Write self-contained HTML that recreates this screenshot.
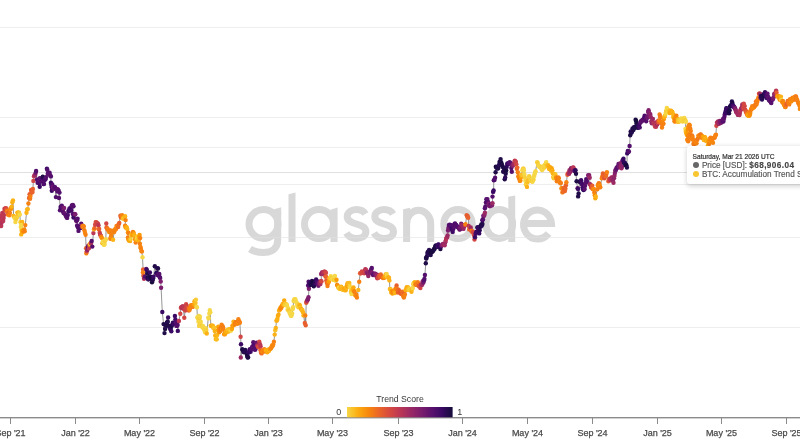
<!DOCTYPE html>
<html><head><meta charset="utf-8"><style>
html,body{margin:0;padding:0;background:#fff;}
body{width:800px;height:445px;overflow:hidden;position:relative;font-family:"Liberation Sans",sans-serif;}
svg{position:absolute;left:0;top:0;will-change:transform;}
.tt{position:absolute;left:687px;top:146px;width:130px;height:38px;background:#fff;border-radius:3px;box-shadow:0 1.5px 5px rgba(0,0,0,0.2);}
.tt div{position:absolute;white-space:nowrap;}
text{opacity:0.999;}
.tt{will-change:transform;}
.d1{left:5.6px;top:6.6px;font-size:6.6px;color:#333;-webkit-text-stroke:0.2px #333;}
.r{left:14.9px;font-size:8.2px;color:#555;-webkit-text-stroke:0.15px #555;}
.r b{color:#444;letter-spacing:0.43px;-webkit-text-stroke:0.15px #444;}
.dot{position:absolute;left:6px;width:6px;height:6px;border-radius:50%;}
</style></head><body>
<svg width="800" height="445" viewBox="0 0 800 445">
<defs><linearGradient id="cb" x1="0" x2="1" y1="0" y2="0"><stop offset="0.00" stop-color="#f6d746"/><stop offset="0.10" stop-color="#fcae12"/><stop offset="0.20" stop-color="#f8890c"/><stop offset="0.30" stop-color="#eb6628"/><stop offset="0.40" stop-color="#d74b3f"/><stop offset="0.50" stop-color="#bc3754"/><stop offset="0.60" stop-color="#9b2964"/><stop offset="0.70" stop-color="#7c1d6d"/><stop offset="0.80" stop-color="#5a116e"/><stop offset="0.90" stop-color="#390963"/><stop offset="1.00" stop-color="#160b39"/></linearGradient></defs>
<g fill="none" stroke="#d8d8d8" stroke-width="7">
<circle cx="263.5" cy="224" r="14.5"/>
<path d="M277.7,212 V240 C277.7,249.5 271,252.5 263.5,252.5 C257.5,252.5 253.5,251.3 250,249"/>
<circle cx="319" cy="224" r="14.5"/>
<path d="M365.4,214 C363.4,210.5 360.4,209.5 356.4,209.5 C351.4,209.5 347.2,212.5 347.2,216.5 C347.2,221 351.4,222.5 356.4,224 C361.4,225.5 365.9,227 365.9,231.5 C365.9,236 361.9,238.5 356.4,238.5 C351.4,238.5 348.4,236.5 346.4,233"/>
<path d="M393.0,214 C391.0,210.5 388.0,209.5 384.0,209.5 C379.0,209.5 374.8,212.5 374.8,216.5 C374.8,221 379.0,222.5 384.0,224 C389.0,225.5 393.5,227 393.5,231.5 C393.5,236 389.5,238.5 384.0,238.5 C379.0,238.5 376.0,236.5 374.0,233"/>
<path d="M406.6,224 A12.05,13.8 0 0 1 430.7,224 V242"/>
<ellipse cx="458" cy="224" rx="14.2" ry="14.4"/>
<ellipse cx="499.2" cy="224" rx="13.4" ry="14.4"/>
<path d="M524.5,223.5 H551.5 A14,14.5 0 1 0 548.5,233.5"/>
</g>
<g fill="#d8d8d8">
<polygon points="288.5,194.3 295.5,192.6 295.5,242 288.5,242"/>
<polygon points="330.5,209.8 337.6,207.6 337.6,242 330.5,242"/>
<polygon points="274,209.3 281.2,207.3 281.2,215 274,215"/>
<polygon points="508.3,196.7 515.2,195.4 515.2,242 508.3,242"/>
<polygon points="403.1,209.3 410.1,207.8 410.1,242 403.1,242"/>
</g>
<rect x="0" y="27" width="800" height="1" fill="#e1e1e1" fill-opacity="0.575"/><rect x="0" y="117" width="800" height="1" fill="#e1e1e1" fill-opacity="0.575"/><rect x="0" y="147" width="800" height="1" fill="#e1e1e1" fill-opacity="0.575"/><rect x="0" y="184" width="800" height="1" fill="#e1e1e1" fill-opacity="0.575"/><rect x="0" y="237" width="800" height="1" fill="#e1e1e1" fill-opacity="0.575"/><rect x="0" y="327" width="800" height="1" fill="#e1e1e1" fill-opacity="0.575"/><rect x="0" y="172" width="800" height="1" fill="#e0e0e0"/>
<polyline points="-4.0,218.0 -3.5,219.5 -3.0,222.5 -2.5,224.0 -1.5,213.0 -0.5,222.0 0.0,218.4 0.5,216.0 1.2,226.0 1.6,222.8 2.0,219.0 2.5,213.0 3.2,221.0 3.6,218.1 4.0,215.0 4.5,208.8 4.9,210.3 5.5,208.5 6.0,208.1 6.5,209.6 6.9,211.3 7.4,210.9 7.9,214.5 8.3,213.0 8.8,214.4 9.3,215.2 9.9,212.9 10.5,208.5 11.1,208.7 11.7,206.6 12.3,202.3 13.0,200.4 13.6,215.9 14.2,216.6 14.8,218.3 15.4,222.0 15.9,218.9 16.4,218.5 16.9,216.9 17.4,212.6 17.9,212.8 18.4,214.1 18.9,212.5 19.3,214.8 19.8,214.6 20.4,222.0 21.0,222.2 21.6,223.6 22.2,222.0 20.8,227.0 21.2,225.0 21.6,229.4 21.2,234.4 21.7,230.7 22.2,231.3 22.7,232.1 23.2,231.0 23.7,230.1 24.2,229.5 24.7,231.3 25.3,225.1 26.5,212.8 27.1,209.5 27.8,209.1 28.4,203.5 29.0,198.0 29.6,194.3 30.1,198.8 30.5,196.1 31.1,189.9 31.6,191.8 32.0,192.6 32.5,192.0 32.9,189.0 33.4,180.9 34.0,176.2 34.6,175.1 35.2,175.0 35.7,172.7 36.1,171.0 37.0,179.5 37.6,182.8 38.3,181.3 38.8,180.9 39.2,183.3 39.7,186.7 39.8,178.2 40.4,179.0 40.9,180.7 41.5,180.9 42.1,178.4 42.8,176.8 43.5,184.0 44.0,184.0 44.6,180.0 45.1,178.7 45.5,179.3 46.0,177.3 46.9,168.7 47.3,169.8 47.8,173.7 48.4,174.1 49.0,174.2 49.6,172.8 50.2,175.3 50.9,176.4 50.9,182.7 51.4,184.9 51.8,187.3 52.3,184.5 51.8,190.8 52.3,188.3 52.7,187.8 53.2,187.2 53.8,189.0 54.4,187.1 55.0,187.2 55.9,197.1 56.8,189.0 57.4,191.4 58.0,189.4 58.6,190.8 59.0,198.0 59.5,192.6 60.0,210.3 60.6,207.0 61.2,206.9 61.8,205.8 62.4,207.4 63.0,211.4 63.6,213.0 64.1,208.0 64.7,213.4 65.3,214.6 65.9,215.7 66.6,217.2 67.2,217.9 67.8,215.1 68.4,211.0 69.0,211.2 69.5,208.4 70.1,209.4 70.6,208.2 71.2,210.4 71.7,205.8 72.3,205.1 72.9,204.9 73.5,206.2 72.8,213.9 73.5,217.5 74.1,214.0 74.7,214.4 75.3,214.3 75.9,220.1 76.4,221.1 77.0,220.2 77.6,218.8 77.1,225.5 77.6,225.9 78.0,227.6 78.5,230.9 79.0,228.0 79.6,227.3 80.1,227.5 80.7,227.9 81.2,223.8 81.7,226.8 82.2,225.6 82.7,226.9 83.3,225.9 83.8,226.5 84.4,230.3 85.0,232.8 85.6,234.8 86.1,248.3 86.3,253.3 86.8,251.3 87.3,249.8 87.8,247.1 88.3,245.7 88.9,248.2 89.5,244.8 90.0,243.8 90.6,243.2 91.1,242.9 91.7,241.0 92.3,246.6 93.4,233.1 94.0,229.2 94.5,228.3 95.1,224.7 95.7,222.1 96.2,222.3 96.8,223.5 97.4,223.3 97.9,223.8 98.5,225.2 98.7,229.2 99.2,228.9 99.7,232.7 100.2,234.8 100.8,235.6 101.3,237.0 101.9,238.1 102.4,243.2 103.0,241.5 103.5,243.3 104.1,244.9 104.7,244.1 105.2,240.8 105.8,239.3 106.3,223.5 106.5,227.5 107.0,228.2 107.5,229.5 108.0,229.2 108.6,230.1 109.1,232.1 109.7,230.3 110.3,238.7 110.9,236.9 111.4,234.8 112.0,230.8 113.1,239.8 114.2,232.0 114.8,229.9 115.3,229.0 115.9,229.2 116.5,225.9 117.0,226.7 117.6,225.8 118.2,226.9 118.7,224.3 119.3,223.0 120.4,215.7 121.0,217.5 121.5,216.1 122.1,215.1 122.8,218.4 123.4,218.4 123.9,218.5 124.5,216.9 125.1,216.2 125.6,220.1 125.1,225.7 125.6,227.4 126.2,227.2 126.8,227.5 127.3,229.1 127.9,232.5 128.6,233.0 127.9,237.5 128.4,239.6 129.0,240.5 129.6,240.1 130.1,241.0 130.6,239.1 131.2,235.3 131.8,234.6 132.3,235.4 132.9,231.9 133.5,232.6 134.0,234.2 134.6,235.8 135.1,239.3 135.7,242.6 136.3,239.7 136.9,238.1 137.4,236.8 138.0,237.8 138.5,240.3 139.1,236.7 139.6,235.0 140.2,238.1 139.9,243.7 140.4,247.0 140.8,248.2 141.4,250.9 141.9,251.6 142.5,257.2 143.1,269.4 142.9,272.5 143.4,275.7 144.0,278.8 144.4,277.9 144.9,276.6 146.3,268.9 146.8,270.0 147.2,273.4 147.6,277.8 148.1,279.3 148.7,279.3 149.3,276.6 149.9,272.5 150.3,276.6 150.9,277.7 151.4,278.7 152.0,282.3 152.6,280.2 153.1,278.2 153.5,276.6 154.8,266.2 156.2,273.4 156.8,272.6 157.4,268.2 158.0,268.5 157.5,274.8 158.1,275.3 158.7,275.0 159.3,273.9 159.8,277.2 160.2,277.9 160.7,281.5 161.1,287.8 162.3,312.0 163.6,324.1 164.5,333.1 165.1,328.9 165.7,327.1 166.3,325.0 166.8,322.7 167.2,322.4 167.7,321.4 168.1,317.4 169.0,325.9 169.6,326.4 170.2,329.0 170.7,328.4 171.3,331.3 171.7,325.9 172.3,324.6 172.9,322.7 173.5,324.1 174.9,316.0 175.4,319.4 175.8,322.3 176.4,325.9 177.0,325.8 177.6,325.0 177.8,330.9 178.9,321.0 180.3,313.8 180.9,307.7 181.6,307.0 182.2,308.1 182.8,306.2 183.4,308.8 184.3,317.8 185.2,310.6 185.6,308.3 186.1,304.3 186.6,305.6 187.0,307.2 187.5,307.9 188.2,307.9 188.8,310.6 189.3,308.2 189.7,309.7 190.2,307.9 190.8,305.4 191.5,305.2 192.0,305.9 192.5,306.9 193.0,304.9 193.5,306.2 194.0,304.4 194.5,301.3 195.0,301.9 195.5,302.9 195.9,299.6 196.4,306.6 196.9,307.4 197.4,317.2 197.9,318.4 198.4,318.8 198.9,315.9 199.4,318.6 199.9,316.8 198.5,321.7 199.1,325.9 199.7,325.0 200.2,323.5 200.8,321.7 201.4,325.6 201.9,326.0 202.4,327.4 202.9,325.9 203.4,327.1 203.9,328.9 204.4,329.1 204.8,331.6 205.3,332.4 205.8,328.1 206.3,330.0 206.8,333.5 208.3,317.7 208.8,318.4 209.3,313.6 209.8,310.2 210.3,312.3 210.8,325.6 211.3,326.0 211.8,325.8 212.3,325.9 212.8,325.6 213.3,327.7 213.8,327.7 214.2,327.7 214.7,331.1 215.2,335.5 215.7,339.1 216.2,339.2 216.7,339.3 217.2,335.1 217.7,330.6 218.2,326.7 218.7,329.2 219.2,332.3 219.7,329.8 220.2,331.1 220.7,328.3 221.1,327.5 221.6,324.7 222.1,329.2 222.6,326.2 223.1,327.4 223.6,329.6 224.1,334.1 224.6,334.4 225.1,333.8 225.6,332.6 226.1,331.6 226.6,332.2 227.1,331.1 227.6,329.6 228.1,330.6 228.6,331.6 229.1,329.5 229.6,329.5 230.0,328.9 230.5,330.4 231.0,330.6 231.5,328.8 232.0,328.8 232.5,325.6 233.0,325.5 233.5,321.7 234.0,324.2 234.5,324.7 235.0,323.9 235.5,322.2 236.0,322.3 236.5,322.9 237.0,321.9 237.5,323.7 237.9,322.6 238.4,319.2 238.9,321.4 239.4,321.6 239.9,322.7 240.6,336.7 241.0,344.2 240.8,357.5 242.3,349.2 242.9,350.3 243.5,351.7 244.1,352.3 244.6,351.8 245.2,350.0 245.8,352.1 246.5,353.0 247.1,355.8 247.7,357.5 248.1,357.3 248.5,352.5 249.0,352.2 249.6,349.5 250.1,349.4 250.6,351.7 251.2,348.9 251.7,348.7 252.3,346.7 252.8,346.5 253.3,342.3 253.8,345.1 254.3,347.5 254.9,349.8 255.4,349.4 256.0,346.2 256.5,342.6 257.1,345.4 257.6,345.7 258.1,347.0 258.7,346.6 259.3,341.7 260.0,344.2 260.6,346.2 260.4,350.0 261.0,352.6 261.6,353.4 262.2,351.7 262.7,351.0 263.2,350.4 263.8,350.5 264.3,349.2 264.8,351.6 265.3,350.1 265.8,350.5 266.3,350.2 266.8,350.4 267.3,352.2 267.8,349.7 268.3,350.3 268.8,351.0 269.3,350.0 269.9,349.1 270.4,348.6 271.0,348.3 271.5,347.2 272.1,345.5 272.6,345.8 273.2,344.7 273.9,341.7 274.7,334.6 275.2,330.2 275.8,327.9 276.5,320.8 276.9,320.2 277.4,319.0 277.9,315.9 278.5,314.6 279.1,310.4 279.6,310.0 280.1,309.0 280.5,307.7 281.0,308.2 281.5,306.4 282.1,305.9 282.6,304.2 283.2,303.9 283.7,305.0 284.2,300.5 284.8,304.7 285.3,303.7 285.9,304.0 286.4,305.5 287.0,305.0 287.6,309.7 288.2,308.2 288.9,310.5 289.5,312.7 290.0,312.8 290.4,314.5 290.9,315.8 291.5,315.7 292.2,313.6 292.6,309.2 293.1,307.3 293.6,301.0 294.2,299.5 294.8,299.5 295.4,299.2 296.0,301.7 296.7,302.8 297.2,304.9 297.6,306.1 298.1,306.8 298.7,307.4 299.3,304.8 299.9,305.5 300.5,307.6 301.1,308.9 301.7,310.0 302.4,310.0 303.0,312.2 303.5,315.4 304.8,323.0 305.3,315.4 305.7,325.3 306.2,302.8 306.6,301.7 307.1,300.5 307.6,299.9 308.0,299.1 308.5,297.2 308.9,288.7 308.1,285.5 308.6,281.7 309.2,283.7 309.7,282.2 310.2,285.0 310.8,284.7 311.3,283.8 312.0,280.9 312.6,281.4 313.2,282.4 313.8,286.3 314.4,284.8 315.0,283.0 315.5,282.0 316.1,279.5 316.6,280.6 317.0,281.8 317.4,283.8 317.9,284.4 318.4,285.8 318.9,283.4 319.4,283.0 319.9,281.9 320.4,284.0 321.0,280.9 321.5,281.4 321.1,274.1 321.7,273.1 322.3,272.1 322.8,273.5 323.3,274.2 323.8,272.0 324.3,271.7 324.8,271.6 325.4,272.1 325.9,272.9 325.5,276.6 325.9,276.6 326.3,280.6 326.9,283.0 327.5,286.0 327.9,283.3 328.3,282.2 328.9,281.5 329.4,278.3 330.0,278.2 330.4,278.6 330.8,276.2 331.3,277.6 331.8,278.0 332.3,278.9 332.8,279.4 333.3,278.2 333.9,279.9 334.4,280.1 334.9,276.0 335.4,280.2 335.8,280.5 336.5,279.8 337.1,285.0 337.7,285.6 338.3,287.5 338.9,287.7 339.5,288.8 340.0,289.0 340.6,288.5 341.2,286.8 341.8,287.8 342.3,289.1 342.8,289.8 343.4,288.6 344.0,289.1 344.6,288.7 345.2,290.4 345.8,289.9 346.4,287.2 346.9,285.8 347.5,283.2 348.1,286.6 348.8,285.9 349.3,283.0 349.7,285.9 350.2,287.7 350.9,291.8 351.5,294.0 352.0,291.6 352.4,290.0 352.9,289.5 353.5,287.4 354.1,291.0 354.7,292.2 355.3,295.2 355.9,295.4 356.5,294.9 356.9,297.6 358.3,289.9 359.2,281.8 360.1,273.3 360.7,273.3 361.3,273.1 361.9,271.5 362.5,272.2 363.1,272.8 363.7,272.8 364.2,273.3 364.8,270.7 365.3,269.2 365.9,269.7 366.5,272.4 367.1,272.5 367.7,273.7 368.3,276.0 368.9,273.3 369.5,271.9 370.1,272.5 370.6,270.5 371.2,269.5 371.8,267.9 371.9,272.4 372.5,274.1 373.0,275.0 373.6,274.2 374.2,273.8 374.7,274.0 375.3,273.7 375.9,274.8 376.5,276.2 377.1,274.6 377.3,278.2 377.8,277.6 378.3,277.8 378.8,276.3 379.3,275.6 379.8,276.9 380.3,276.2 380.8,274.5 381.3,276.8 381.9,277.1 382.5,277.2 383.0,278.1 383.6,277.7 384.2,277.7 384.8,276.6 385.4,275.0 386.0,274.3 386.6,274.0 387.2,276.8 387.8,277.4 388.4,277.5 389.0,277.7 389.4,280.4 389.9,289.0 390.5,289.3 391.2,292.6 391.8,291.3 392.4,293.6 392.9,291.9 393.5,290.8 394.1,291.2 394.8,293.0 395.4,289.0 396.0,288.3 396.6,285.4 397.1,289.0 397.6,290.0 398.0,292.6 398.6,289.7 399.2,291.1 399.8,291.7 400.4,293.0 401.0,293.8 401.6,293.5 402.2,291.6 402.8,294.8 403.4,296.6 403.9,297.6 404.3,293.0 404.9,294.8 405.5,290.2 406.1,289.9 406.7,287.2 407.3,288.7 407.9,287.2 408.5,289.7 409.1,288.4 409.7,289.4 410.3,290.0 410.9,290.3 411.5,291.7 412.1,289.0 412.8,288.0 413.3,284.2 413.7,283.0 414.2,282.7 414.9,282.3 415.5,284.5 416.1,284.8 416.7,285.0 417.3,283.1 417.8,282.2 418.2,284.4 418.7,285.8 419.3,286.5 419.8,286.1 420.4,288.0 420.9,285.0 421.3,284.5 421.8,284.1 422.2,284.8 422.7,281.3 423.4,282.5 424.0,280.4 424.4,278.9 424.9,275.0 425.8,263.3 426.0,258.0 426.4,258.5 426.9,256.2 427.4,252.9 428.0,251.7 428.5,253.3 429.1,250.0 429.6,252.6 430.1,251.5 430.7,255.0 431.2,252.2 431.8,251.4 432.3,251.7 432.9,251.1 433.4,250.3 433.9,249.2 434.5,249.0 435.0,247.5 435.4,246.0 435.9,245.4 436.4,246.0 437.0,246.6 437.5,246.8 438.1,244.8 438.6,244.5 439.2,246.5 439.8,246.9 440.4,249.0 441.0,246.3 441.7,245.4 442.3,245.0 442.9,243.9 443.5,244.5 444.1,244.3 444.7,245.3 445.3,242.2 445.8,240.4 446.2,238.4 446.7,237.7 447.1,237.2 447.6,235.5 448.0,230.5 448.4,227.9 448.9,225.1 449.5,224.8 450.1,224.9 450.7,226.0 451.2,225.1 451.6,228.6 452.1,230.0 452.7,231.9 453.3,228.9 453.9,227.0 454.4,224.2 455.0,223.4 455.6,224.7 456.1,225.0 456.7,226.0 457.2,226.7 457.8,227.3 458.4,227.0 458.9,228.2 459.5,229.6 460.1,229.3 460.6,227.5 461.2,223.8 461.8,225.3 462.3,225.0 462.9,226.0 463.5,228.9 464.1,226.7 464.7,225.5 465.1,225.1 465.6,224.2 466.7,215.3 467.2,216.6 467.7,216.1 468.2,217.8 468.7,225.9 469.2,229.4 469.7,228.4 470.2,228.3 470.7,227.4 471.2,230.7 471.8,231.0 472.4,232.2 473.0,231.7 473.6,232.8 474.1,235.6 474.5,239.5 475.0,237.3 475.6,233.8 476.3,231.9 476.8,231.7 477.3,227.4 478.0,227.1 478.6,229.2 479.2,233.4 479.7,230.2 480.2,226.5 480.8,226.5 481.3,224.5 481.9,225.5 482.4,223.9 482.4,220.3 482.9,219.2 483.4,215.8 483.9,215.8 484.4,215.0 484.9,212.8 484.9,208.2 485.4,206.5 485.9,202.6 486.4,199.3 486.9,201.8 487.4,199.1 487.9,201.6 488.4,203.5 488.9,205.5 489.4,203.7 489.9,206.2 490.5,205.0 491.0,204.7 491.5,205.3 492.0,205.3 492.5,203.2 492.5,196.6 493.1,191.9 493.6,190.5 493.8,180.3 494.5,179.9 495.1,177.8 495.6,172.3 495.8,166.7 496.4,167.6 497.0,167.0 497.5,168.6 498.1,168.2 498.6,166.1 499.0,164.9 499.5,162.0 500.1,161.7 500.6,159.1 501.1,162.1 501.6,163.8 502.2,165.2 502.7,166.9 503.2,171.7 503.7,171.3 504.2,168.2 504.7,179.3 505.2,177.4 505.7,173.8 506.2,170.4 506.7,166.9 507.2,163.8 507.7,164.2 508.2,163.2 508.7,163.4 509.2,162.9 509.7,162.1 510.2,162.9 510.8,164.0 511.3,168.0 511.8,171.7 512.3,165.2 512.8,165.7 513.3,163.9 513.8,164.6 514.3,162.5 514.8,160.6 515.3,161.5 515.8,161.7 516.3,164.2 516.8,168.7 517.3,167.6 517.8,172.3 518.3,176.3 518.8,177.5 519.4,179.1 519.9,180.9 520.4,180.4 520.9,177.4 521.4,174.8 521.9,175.2 522.4,170.2 522.9,168.9 523.4,168.4 523.9,170.2 524.4,174.3 524.9,177.4 525.4,180.8 525.9,184.4 526.4,182.9 527.0,186.9 527.5,182.4 528.0,180.2 528.5,179.9 529.0,176.3 529.5,176.8 530.0,179.0 530.5,179.6 531.0,180.3 531.5,181.0 532.0,181.2 532.5,181.8 533.0,180.3 533.5,179.5 534.0,176.2 534.5,174.4 535.1,172.4 535.6,171.2 537.1,162.1 537.6,162.7 538.1,165.1 538.6,165.4 539.1,166.1 539.6,166.9 540.1,167.1 540.6,166.9 541.1,168.6 541.6,166.8 542.1,170.0 542.6,168.7 543.1,168.4 543.7,166.1 544.2,167.5 544.7,165.1 545.2,165.0 545.7,163.8 546.2,162.1 546.7,165.7 547.2,165.6 547.7,166.3 548.2,165.1 548.7,167.8 549.2,169.1 549.7,168.1 550.2,167.1 550.7,168.9 551.2,170.7 551.7,168.2 552.3,170.3 552.8,173.2 553.3,176.9 553.8,178.2 554.3,176.7 554.8,176.2 555.3,174.2 555.8,177.8 556.3,177.4 556.8,181.3 557.3,180.0 557.8,178.9 558.3,177.5 558.8,178.3 559.3,181.6 559.8,182.2 560.3,183.3 560.8,182.9 561.4,188.4 561.9,188.1 562.4,192.4 562.9,191.8 563.4,188.8 563.9,188.0 564.4,189.4 564.9,191.1 565.4,188.7 565.9,185.3 566.4,182.3 567.4,174.7 567.9,173.4 568.5,173.2 569.0,173.9 569.5,170.2 570.0,172.2 570.5,170.7 571.0,168.2 571.5,168.7 572.0,169.1 572.5,168.3 573.0,167.4 573.5,167.6 574.0,170.3 574.5,171.1 575.0,170.8 575.5,170.2 576.0,173.7 576.6,181.2 577.6,188.3 578.1,188.9 578.6,193.4 578.1,196.4 579.6,181.7 580.1,181.4 580.6,182.0 581.1,180.3 581.6,183.8 582.1,184.3 582.6,187.3 583.1,189.3 583.6,190.1 584.1,189.2 584.6,189.1 585.1,185.8 585.6,182.2 586.2,179.1 586.7,180.8 587.2,182.3 588.2,175.2 588.7,175.6 589.2,175.1 589.7,177.7 589.9,184.3 590.5,184.8 591.0,186.9 591.6,187.8 592.2,185.8 592.7,188.9 593.2,189.3 593.8,189.0 594.3,192.4 594.8,195.2 595.3,198.3 595.8,196.4 597.3,189.3 597.8,185.3 598.3,184.4 598.8,183.3 599.3,183.8 599.8,185.6 600.3,187.3 601.8,178.2 602.3,176.3 602.9,173.4 603.4,176.2 603.9,176.3 604.4,178.2 604.9,174.2 605.4,174.7 605.9,176.0 606.4,174.1 606.9,172.1 608.4,181.2 608.9,180.0 609.4,179.3 609.9,178.8 610.4,180.2 610.9,179.5 611.5,177.5 612.0,177.7 612.5,180.2 613.0,180.1 613.5,182.8 614.0,178.2 614.5,175.8 614.9,172.9 615.4,170.3 615.9,170.1 616.4,168.1 617.0,167.9 617.5,166.8 618.0,167.0 618.5,164.0 619.0,166.2 619.5,167.3 620.0,166.5 620.5,163.1 621.0,166.5 621.5,168.2 622.0,166.6 622.5,160.5 623.0,160.3 623.5,158.8 624.0,162.5 624.5,163.2 625.0,163.0 625.5,164.9 626.0,164.9 626.4,165.3 626.9,167.6 627.2,153.4 627.8,150.9 628.3,152.0 628.9,151.4 629.6,146.0 630.2,135.2 630.7,131.4 631.1,132.8 631.6,132.5 632.1,131.6 632.5,128.4 633.0,129.8 633.5,129.8 634.0,127.1 634.5,127.1 635.0,127.8 635.6,119.7 636.1,121.0 636.5,123.8 637.0,126.5 637.5,125.1 638.0,127.9 638.6,126.8 639.1,125.0 639.7,127.4 640.3,122.8 640.8,121.6 641.4,120.7 641.9,121.2 642.5,120.1 643.0,119.7 643.5,119.5 644.1,118.0 644.6,115.7 645.1,116.6 645.7,118.5 646.2,121.2 646.7,118.5 647.2,117.6 647.6,116.1 648.1,111.9 648.6,110.2 649.0,112.8 649.4,116.5 649.9,114.5 650.3,114.1 650.8,117.0 651.3,121.2 651.8,123.2 652.4,121.9 652.9,118.9 653.5,122.6 654.0,123.6 654.5,124.2 655.0,126.5 655.5,124.8 656.0,126.7 656.6,122.3 657.2,124.4 657.7,123.2 658.2,120.7 658.7,122.0 659.2,120.4 659.6,114.5 660.1,116.5 660.7,117.6 661.2,122.0 661.6,123.7 662.0,127.5 662.5,122.5 663.0,124.1 663.5,123.6 663.9,119.0 664.3,117.3 664.8,115.9 665.4,114.6 665.9,112.2 666.4,110.5 666.8,108.0 667.3,109.3 667.8,109.8 668.3,112.3 668.8,110.5 669.3,111.7 669.8,113.0 670.3,112.5 670.8,110.8 671.2,111.0 671.7,111.8 672.2,111.8 672.7,113.3 673.2,116.9 673.7,115.0 674.1,118.7 674.5,121.2 675.0,121.5 675.5,118.4 675.9,117.2 676.4,115.8 676.9,118.7 677.3,119.5 677.8,121.7 678.3,119.6 678.9,121.7 679.4,121.0 680.0,120.5 680.5,120.8 681.0,118.5 681.6,118.9 682.1,119.0 682.7,121.5 683.2,119.9 683.7,118.7 684.3,117.9 684.8,120.6 685.4,120.2 685.9,121.7 685.4,128.9 685.8,131.8 686.3,133.3 686.8,134.9 687.3,133.2 687.8,129.4 688.3,126.4 688.8,127.2 689.3,124.8 689.8,125.4 690.3,128.7 690.8,131.1 688.1,136.0 687.2,139.6 687.7,140.6 688.2,141.3 688.7,137.3 689.3,134.9 689.8,134.7 690.3,135.1 690.8,136.5 691.4,138.7 692.0,135.5 692.6,136.9 693.0,139.8 693.5,143.7 694.1,144.3 694.7,140.4 695.3,141.0 695.9,143.3 696.5,143.2 697.1,140.1 697.8,138.5 698.4,135.6 699.0,135.7 699.6,135.7 700.2,134.7 700.8,134.5 701.4,137.8 702.0,136.0 702.6,136.7 703.2,136.6 703.8,140.1 704.4,137.2 705.0,137.2 705.6,138.7 706.2,141.0 706.8,140.7 707.4,141.4 708.0,145.2 708.6,140.9 709.2,143.7 709.7,141.7 710.1,138.6 710.6,137.8 711.2,139.1 711.8,140.3 712.4,139.6 713.0,142.8 713.6,137.9 714.2,137.8 714.8,137.4 715.4,135.3 716.0,134.7 716.4,125.8 717.0,122.8 717.5,122.3 718.1,121.5 718.7,123.9 719.2,121.7 719.7,121.0 720.1,121.6 720.6,123.1 721.1,122.5 721.7,121.9 722.2,121.0 722.8,119.2 723.4,121.5 723.9,118.9 724.4,116.8 724.8,114.3 725.3,112.6 725.8,110.7 726.3,108.3 726.7,108.5 727.2,112.0 727.7,113.0 728.2,111.7 728.7,110.9 729.1,113.2 729.6,110.2 730.1,106.4 730.5,106.1 731.0,105.5 731.5,104.5 731.9,101.5 732.4,103.1 732.9,105.9 733.3,105.5 733.8,107.1 734.3,106.9 734.8,108.6 735.2,108.3 735.7,110.4 736.2,112.3 736.7,111.1 737.3,113.2 737.9,114.9 738.4,114.1 739.0,114.9 739.5,115.0 739.9,112.9 740.4,110.2 740.9,109.6 741.3,108.6 741.8,107.3 742.3,104.5 742.8,106.1 743.3,108.3 743.8,103.6 744.2,105.9 744.7,106.1 745.2,109.7 745.7,111.1 746.1,112.6 746.6,111.6 747.1,114.8 747.5,113.8 748.0,115.5 748.5,115.4 749.0,115.9 749.4,112.1 749.9,114.9 750.3,112.9 750.8,110.1 751.3,108.8 751.8,109.1 752.2,106.3 752.7,107.4 753.2,107.8 753.7,107.4 754.1,106.9 754.6,105.5 755.1,105.7 755.5,104.6 756.0,101.5 756.5,104.5 757.0,102.3 757.4,100.1 757.9,99.8 758.4,97.4 759.0,93.6 759.5,93.8 760.0,93.8 760.5,97.7 761.0,96.0 761.5,97.5 762.0,99.6 762.6,97.1 763.1,96.3 763.6,95.0 764.1,94.0 764.6,93.8 765.0,92.2 765.5,94.2 766.0,95.3 766.5,97.9 767.0,96.3 767.5,93.7 768.0,96.6 768.5,97.6 769.0,100.3 769.5,99.1 770.1,100.9 770.8,102.3 771.3,103.0 771.9,99.2 772.4,99.7 773.0,98.9 773.6,97.2 774.2,93.9 774.9,94.1 775.5,92.6 776.1,90.6 776.6,92.7 777.1,96.3 777.7,96.1 778.3,96.9 778.8,96.3 779.4,98.7 779.9,99.7 780.4,99.4 780.9,96.6 781.2,100.0 781.8,101.2 782.4,102.3 782.9,101.0 783.5,103.5 784.0,104.8 784.5,105.2 785.1,107.0 785.6,107.0 786.1,104.9 786.7,103.5 787.2,104.1 787.7,101.0 788.2,103.1 788.7,102.9 789.2,104.4 789.7,100.6 790.1,99.1 790.6,100.0 791.1,101.6 791.5,101.1 792.0,99.2 792.5,97.8 793.0,98.4 793.5,98.1 794.0,99.8 794.5,97.6 795.0,96.6 795.5,96.6 796.0,96.5 796.4,99.5 796.9,99.1 797.5,100.7 798.2,102.9 798.8,103.3 799.4,105.4 799.9,108.9 800.4,108.2 801.0,105.5 801.5,102.3 802.0,104.0" fill="none" stroke="#8a8a8a" stroke-width="0.9"/>
<circle cx="-4.0" cy="218.0" r="2.20" fill="#bc3754"/>
<circle cx="-3.5" cy="219.5" r="2.20" fill="#ba3655"/>
<circle cx="-3.0" cy="222.5" r="2.20" fill="#bf3952"/>
<circle cx="-2.5" cy="224.0" r="2.20" fill="#bc3754"/>
<circle cx="-1.5" cy="213.0" r="2.20" fill="#bc3754"/>
<circle cx="-0.5" cy="222.0" r="2.20" fill="#bc3754"/>
<circle cx="0.0" cy="218.4" r="2.20" fill="#c63d4d"/>
<circle cx="0.5" cy="216.0" r="2.20" fill="#bc3754"/>
<circle cx="1.2" cy="226.0" r="2.20" fill="#bc3754"/>
<circle cx="1.6" cy="222.8" r="2.20" fill="#b3325a"/>
<circle cx="2.0" cy="219.0" r="2.20" fill="#bc3754"/>
<circle cx="2.5" cy="213.0" r="2.20" fill="#bc3754"/>
<circle cx="3.2" cy="221.0" r="2.20" fill="#bc3754"/>
<circle cx="3.6" cy="218.1" r="2.20" fill="#b93556"/>
<circle cx="4.0" cy="215.0" r="2.20" fill="#bc3754"/>
<circle cx="4.5" cy="208.8" r="2.20" fill="#d04545"/>
<circle cx="4.9" cy="210.3" r="2.20" fill="#d24644"/>
<circle cx="5.5" cy="208.5" r="2.20" fill="#bc3754"/>
<circle cx="6.0" cy="208.1" r="2.20" fill="#d54a41"/>
<circle cx="6.5" cy="209.6" r="2.20" fill="#df5337"/>
<circle cx="6.9" cy="211.3" r="2.20" fill="#eb6628"/>
<circle cx="7.4" cy="210.9" r="2.20" fill="#f78212"/>
<circle cx="7.9" cy="214.5" r="2.20" fill="#f57d15"/>
<circle cx="8.3" cy="213.0" r="2.20" fill="#e8602d"/>
<circle cx="8.8" cy="214.4" r="2.20" fill="#ef6c23"/>
<circle cx="9.3" cy="215.2" r="2.20" fill="#f78212"/>
<circle cx="9.9" cy="212.9" r="2.20" fill="#f67e14"/>
<circle cx="10.5" cy="208.5" r="2.20" fill="#f78212"/>
<circle cx="11.1" cy="208.7" r="2.20" fill="#fa9008"/>
<circle cx="11.7" cy="206.6" r="2.20" fill="#fcb216"/>
<circle cx="12.3" cy="202.3" r="2.20" fill="#fcb216"/>
<circle cx="13.0" cy="200.4" r="2.20" fill="#fcb216"/>
<circle cx="13.6" cy="215.9" r="2.20" fill="#fcb216"/>
<circle cx="14.2" cy="216.6" r="2.20" fill="#fbba1f"/>
<circle cx="14.8" cy="218.3" r="2.20" fill="#f6d746"/>
<circle cx="15.4" cy="222.0" r="2.20" fill="#f6d746"/>
<circle cx="15.9" cy="218.9" r="2.20" fill="#f6d746"/>
<circle cx="16.4" cy="218.5" r="2.20" fill="#f9c932"/>
<circle cx="16.9" cy="216.9" r="2.20" fill="#f8cf3a"/>
<circle cx="17.4" cy="212.6" r="2.20" fill="#fcb418"/>
<circle cx="17.9" cy="212.8" r="2.20" fill="#fcb216"/>
<circle cx="18.4" cy="214.1" r="2.20" fill="#fbb61a"/>
<circle cx="18.9" cy="212.5" r="2.20" fill="#fac228"/>
<circle cx="19.3" cy="214.8" r="2.20" fill="#f9cb35"/>
<circle cx="19.8" cy="214.6" r="2.20" fill="#f6d746"/>
<circle cx="20.4" cy="222.0" r="2.20" fill="#f6d746"/>
<circle cx="21.0" cy="222.2" r="2.20" fill="#fac62d"/>
<circle cx="21.6" cy="223.6" r="2.20" fill="#f8cd37"/>
<circle cx="22.2" cy="222.0" r="2.20" fill="#fcb216"/>
<circle cx="20.8" cy="227.0" r="2.20" fill="#f6d746"/>
<circle cx="21.2" cy="225.0" r="2.20" fill="#f6d746"/>
<circle cx="21.6" cy="229.4" r="2.20" fill="#f6d746"/>
<circle cx="21.2" cy="234.4" r="2.20" fill="#fcb216"/>
<circle cx="21.7" cy="230.7" r="2.20" fill="#fbb81d"/>
<circle cx="22.2" cy="231.3" r="2.20" fill="#fcac11"/>
<circle cx="22.7" cy="232.1" r="2.20" fill="#fca108"/>
<circle cx="23.2" cy="231.0" r="2.20" fill="#f98b0b"/>
<circle cx="23.7" cy="230.1" r="2.20" fill="#fb9b06"/>
<circle cx="24.2" cy="229.5" r="2.20" fill="#f8890c"/>
<circle cx="24.7" cy="231.3" r="2.20" fill="#f78212"/>
<circle cx="25.3" cy="225.1" r="2.20" fill="#f78212"/>
<circle cx="26.5" cy="212.8" r="2.20" fill="#fcb216"/>
<circle cx="27.1" cy="209.5" r="2.20" fill="#fbba1f"/>
<circle cx="27.8" cy="209.1" r="2.20" fill="#fcb216"/>
<circle cx="28.4" cy="203.5" r="2.20" fill="#f78212"/>
<circle cx="29.0" cy="198.0" r="2.20" fill="#e8602d"/>
<circle cx="29.6" cy="194.3" r="2.20" fill="#e8602d"/>
<circle cx="30.1" cy="198.8" r="2.20" fill="#f47918"/>
<circle cx="30.5" cy="196.1" r="2.20" fill="#f78212"/>
<circle cx="31.1" cy="189.9" r="2.20" fill="#e8602d"/>
<circle cx="31.6" cy="191.8" r="2.20" fill="#e75e2e"/>
<circle cx="32.0" cy="192.6" r="2.20" fill="#e8602d"/>
<circle cx="32.5" cy="192.0" r="2.20" fill="#ea632a"/>
<circle cx="32.9" cy="189.0" r="2.20" fill="#e8602d"/>
<circle cx="33.4" cy="180.9" r="2.20" fill="#d24644"/>
<circle cx="34.0" cy="176.2" r="2.20" fill="#c03a51"/>
<circle cx="34.6" cy="175.1" r="2.20" fill="#ab2f5e"/>
<circle cx="35.2" cy="175.0" r="2.20" fill="#9b2964"/>
<circle cx="35.7" cy="172.7" r="2.20" fill="#6d186e"/>
<circle cx="36.1" cy="171.0" r="2.20" fill="#540f6d"/>
<circle cx="37.0" cy="179.5" r="2.20" fill="#540f6d"/>
<circle cx="37.6" cy="182.8" r="2.20" fill="#4c0c6b"/>
<circle cx="38.3" cy="181.3" r="2.20" fill="#540f6d"/>
<circle cx="38.8" cy="180.9" r="2.20" fill="#57106e"/>
<circle cx="39.2" cy="183.3" r="2.20" fill="#4d0d6c"/>
<circle cx="39.7" cy="186.7" r="2.20" fill="#390963"/>
<circle cx="39.8" cy="178.2" r="2.20" fill="#540f6d"/>
<circle cx="40.4" cy="179.0" r="2.20" fill="#61136e"/>
<circle cx="40.9" cy="180.7" r="2.20" fill="#5d126e"/>
<circle cx="41.5" cy="180.9" r="2.20" fill="#540f6d"/>
<circle cx="42.1" cy="178.4" r="2.20" fill="#470b6a"/>
<circle cx="42.8" cy="176.8" r="2.20" fill="#1f0c48"/>
<circle cx="43.5" cy="184.0" r="2.20" fill="#390963"/>
<circle cx="44.0" cy="184.0" r="2.20" fill="#510e6c"/>
<circle cx="44.6" cy="180.0" r="2.20" fill="#540f6d"/>
<circle cx="45.1" cy="178.7" r="2.20" fill="#4a0c6b"/>
<circle cx="45.5" cy="179.3" r="2.20" fill="#470b6a"/>
<circle cx="46.0" cy="177.3" r="2.20" fill="#540f6d"/>
<circle cx="46.9" cy="168.7" r="2.20" fill="#390963"/>
<circle cx="47.3" cy="169.8" r="2.20" fill="#520e6d"/>
<circle cx="47.8" cy="173.7" r="2.20" fill="#540f6d"/>
<circle cx="48.4" cy="174.1" r="2.20" fill="#5d126e"/>
<circle cx="49.0" cy="174.2" r="2.20" fill="#61136e"/>
<circle cx="49.6" cy="172.8" r="2.20" fill="#540f6d"/>
<circle cx="50.2" cy="175.3" r="2.20" fill="#5d126e"/>
<circle cx="50.9" cy="176.4" r="2.20" fill="#540f6d"/>
<circle cx="50.9" cy="182.7" r="2.20" fill="#390963"/>
<circle cx="51.4" cy="184.9" r="2.20" fill="#380962"/>
<circle cx="51.8" cy="187.3" r="2.20" fill="#450a69"/>
<circle cx="52.3" cy="184.5" r="2.20" fill="#540f6d"/>
<circle cx="51.8" cy="190.8" r="2.20" fill="#390963"/>
<circle cx="52.3" cy="188.3" r="2.20" fill="#4f0d6c"/>
<circle cx="52.7" cy="187.8" r="2.20" fill="#5d126e"/>
<circle cx="53.2" cy="187.2" r="2.20" fill="#7c1d6d"/>
<circle cx="53.8" cy="189.0" r="2.20" fill="#65156e"/>
<circle cx="54.4" cy="187.1" r="2.20" fill="#540f6d"/>
<circle cx="55.0" cy="187.2" r="2.20" fill="#540f6d"/>
<circle cx="55.9" cy="197.1" r="2.20" fill="#540f6d"/>
<circle cx="56.8" cy="189.0" r="2.20" fill="#540f6d"/>
<circle cx="57.4" cy="191.4" r="2.20" fill="#57106e"/>
<circle cx="58.0" cy="189.4" r="2.20" fill="#61136e"/>
<circle cx="58.6" cy="190.8" r="2.20" fill="#540f6d"/>
<circle cx="59.0" cy="198.0" r="2.20" fill="#540f6d"/>
<circle cx="59.5" cy="192.6" r="2.20" fill="#540f6d"/>
<circle cx="60.0" cy="210.3" r="2.20" fill="#540f6d"/>
<circle cx="60.6" cy="207.0" r="2.20" fill="#490b6a"/>
<circle cx="61.2" cy="206.9" r="2.20" fill="#470b6a"/>
<circle cx="61.8" cy="205.8" r="2.20" fill="#540f6d"/>
<circle cx="62.4" cy="207.4" r="2.20" fill="#5c126e"/>
<circle cx="63.0" cy="211.4" r="2.20" fill="#5a116e"/>
<circle cx="63.6" cy="213.0" r="2.20" fill="#540f6d"/>
<circle cx="64.1" cy="208.0" r="2.20" fill="#7c1d6d"/>
<circle cx="64.7" cy="213.4" r="2.20" fill="#65156e"/>
<circle cx="65.3" cy="214.6" r="2.20" fill="#61136e"/>
<circle cx="65.9" cy="215.7" r="2.20" fill="#540f6d"/>
<circle cx="66.6" cy="217.2" r="2.20" fill="#5f136e"/>
<circle cx="67.2" cy="217.9" r="2.20" fill="#540f6d"/>
<circle cx="67.8" cy="215.1" r="2.20" fill="#4c0c6b"/>
<circle cx="68.4" cy="211.0" r="2.20" fill="#4a0c6b"/>
<circle cx="69.0" cy="211.2" r="2.20" fill="#390963"/>
<circle cx="69.5" cy="208.4" r="2.20" fill="#420a68"/>
<circle cx="70.1" cy="209.4" r="2.20" fill="#470b6a"/>
<circle cx="70.6" cy="208.2" r="2.20" fill="#3d0965"/>
<circle cx="71.2" cy="210.4" r="2.20" fill="#490b6a"/>
<circle cx="71.7" cy="205.8" r="2.20" fill="#540f6d"/>
<circle cx="72.3" cy="205.1" r="2.20" fill="#4c0c6b"/>
<circle cx="72.9" cy="204.9" r="2.20" fill="#5d126e"/>
<circle cx="73.5" cy="206.2" r="2.20" fill="#540f6d"/>
<circle cx="72.8" cy="213.9" r="2.20" fill="#540f6d"/>
<circle cx="73.5" cy="217.5" r="2.20" fill="#390963"/>
<circle cx="74.1" cy="214.0" r="2.20" fill="#4d0d6c"/>
<circle cx="74.7" cy="214.4" r="2.20" fill="#6f196e"/>
<circle cx="75.3" cy="214.3" r="2.20" fill="#7c1d6d"/>
<circle cx="75.9" cy="220.1" r="2.20" fill="#65156e"/>
<circle cx="76.4" cy="221.1" r="2.20" fill="#69166e"/>
<circle cx="77.0" cy="220.2" r="2.20" fill="#540f6d"/>
<circle cx="77.6" cy="218.8" r="2.20" fill="#540f6d"/>
<circle cx="77.1" cy="225.5" r="2.20" fill="#540f6d"/>
<circle cx="77.6" cy="225.9" r="2.20" fill="#5a116e"/>
<circle cx="78.0" cy="227.6" r="2.20" fill="#520e6d"/>
<circle cx="78.5" cy="230.9" r="2.20" fill="#540f6d"/>
<circle cx="79.0" cy="228.0" r="2.20" fill="#520e6d"/>
<circle cx="79.6" cy="227.3" r="2.20" fill="#490b6a"/>
<circle cx="80.1" cy="227.5" r="2.20" fill="#550f6d"/>
<circle cx="80.7" cy="227.9" r="2.20" fill="#490b6a"/>
<circle cx="81.2" cy="223.8" r="2.20" fill="#540f6d"/>
<circle cx="81.7" cy="226.8" r="2.20" fill="#952667"/>
<circle cx="82.2" cy="225.6" r="2.20" fill="#db503b"/>
<circle cx="82.7" cy="226.9" r="2.20" fill="#f78212"/>
<circle cx="83.3" cy="225.9" r="2.20" fill="#f98b0b"/>
<circle cx="83.8" cy="226.5" r="2.20" fill="#f78212"/>
<circle cx="84.4" cy="230.3" r="2.20" fill="#f78212"/>
<circle cx="85.0" cy="232.8" r="2.20" fill="#f8870e"/>
<circle cx="85.6" cy="234.8" r="2.20" fill="#f78212"/>
<circle cx="86.1" cy="248.3" r="2.20" fill="#e8602d"/>
<circle cx="86.3" cy="253.3" r="2.20" fill="#f78212"/>
<circle cx="86.8" cy="251.3" r="2.20" fill="#c83f4b"/>
<circle cx="87.3" cy="249.8" r="2.20" fill="#8a226a"/>
<circle cx="87.8" cy="247.1" r="2.20" fill="#390963"/>
<circle cx="88.3" cy="245.7" r="2.20" fill="#7c1d6d"/>
<circle cx="88.9" cy="248.2" r="2.20" fill="#c03a51"/>
<circle cx="89.5" cy="244.8" r="2.20" fill="#f78212"/>
<circle cx="90.0" cy="243.8" r="2.20" fill="#f6d746"/>
<circle cx="90.6" cy="243.2" r="2.20" fill="#f1711f"/>
<circle cx="91.1" cy="242.9" r="2.20" fill="#ab2f5e"/>
<circle cx="91.7" cy="241.0" r="2.20" fill="#540f6d"/>
<circle cx="92.3" cy="246.6" r="2.20" fill="#540f6d"/>
<circle cx="93.4" cy="233.1" r="2.20" fill="#bc3754"/>
<circle cx="94.0" cy="229.2" r="2.20" fill="#fcb216"/>
<circle cx="94.5" cy="228.3" r="2.20" fill="#ed6925"/>
<circle cx="95.1" cy="224.7" r="2.20" fill="#d24644"/>
<circle cx="95.7" cy="222.1" r="2.20" fill="#d94d3d"/>
<circle cx="96.2" cy="222.3" r="2.20" fill="#d94d3d"/>
<circle cx="96.8" cy="223.5" r="2.20" fill="#d24644"/>
<circle cx="97.4" cy="223.3" r="2.20" fill="#d04545"/>
<circle cx="97.9" cy="223.8" r="2.20" fill="#cc4248"/>
<circle cx="98.5" cy="225.2" r="2.20" fill="#bc3754"/>
<circle cx="98.7" cy="229.2" r="2.20" fill="#f78212"/>
<circle cx="99.2" cy="228.9" r="2.20" fill="#e65d2f"/>
<circle cx="99.7" cy="232.7" r="2.20" fill="#d24644"/>
<circle cx="100.2" cy="234.8" r="2.20" fill="#bc3754"/>
<circle cx="100.8" cy="235.6" r="2.20" fill="#d84c3e"/>
<circle cx="101.3" cy="237.0" r="2.20" fill="#f78212"/>
<circle cx="101.9" cy="238.1" r="2.20" fill="#f98e09"/>
<circle cx="102.4" cy="243.2" r="2.20" fill="#fcae12"/>
<circle cx="103.0" cy="241.5" r="2.20" fill="#f6d746"/>
<circle cx="103.5" cy="243.3" r="2.20" fill="#f6d746"/>
<circle cx="104.1" cy="244.9" r="2.20" fill="#f6d746"/>
<circle cx="104.7" cy="244.1" r="2.20" fill="#f6d746"/>
<circle cx="105.2" cy="240.8" r="2.20" fill="#f8cf3a"/>
<circle cx="105.8" cy="239.3" r="2.20" fill="#f6d746"/>
<circle cx="106.3" cy="223.5" r="2.20" fill="#d24644"/>
<circle cx="106.5" cy="227.5" r="2.20" fill="#e8602d"/>
<circle cx="107.0" cy="228.2" r="2.20" fill="#ee6a24"/>
<circle cx="107.5" cy="229.5" r="2.20" fill="#f78212"/>
<circle cx="108.0" cy="229.2" r="2.20" fill="#f78212"/>
<circle cx="108.6" cy="230.1" r="2.20" fill="#f2741c"/>
<circle cx="109.1" cy="232.1" r="2.20" fill="#f98c0a"/>
<circle cx="109.7" cy="230.3" r="2.20" fill="#f78212"/>
<circle cx="110.3" cy="238.7" r="2.20" fill="#f78212"/>
<circle cx="110.9" cy="236.9" r="2.20" fill="#f98c0a"/>
<circle cx="111.4" cy="234.8" r="2.20" fill="#f78410"/>
<circle cx="112.0" cy="230.8" r="2.20" fill="#f78212"/>
<circle cx="113.1" cy="239.8" r="2.20" fill="#fcb216"/>
<circle cx="114.2" cy="232.0" r="2.20" fill="#f78212"/>
<circle cx="114.8" cy="229.9" r="2.20" fill="#f57d15"/>
<circle cx="115.3" cy="229.0" r="2.20" fill="#f98e09"/>
<circle cx="115.9" cy="229.2" r="2.20" fill="#f78212"/>
<circle cx="116.5" cy="225.9" r="2.20" fill="#f78410"/>
<circle cx="117.0" cy="226.7" r="2.20" fill="#f98e09"/>
<circle cx="117.6" cy="225.8" r="2.20" fill="#f78212"/>
<circle cx="118.2" cy="226.9" r="2.20" fill="#ef6c23"/>
<circle cx="118.7" cy="224.3" r="2.20" fill="#f3761b"/>
<circle cx="119.3" cy="223.0" r="2.20" fill="#e8602d"/>
<circle cx="120.4" cy="215.7" r="2.20" fill="#e8602d"/>
<circle cx="121.0" cy="217.5" r="2.20" fill="#e8602d"/>
<circle cx="121.5" cy="216.1" r="2.20" fill="#f57d15"/>
<circle cx="122.1" cy="215.1" r="2.20" fill="#f78212"/>
<circle cx="122.8" cy="218.4" r="2.20" fill="#fcb216"/>
<circle cx="123.4" cy="218.4" r="2.20" fill="#fbbe23"/>
<circle cx="123.9" cy="218.5" r="2.20" fill="#fac228"/>
<circle cx="124.5" cy="216.9" r="2.20" fill="#fbbc21"/>
<circle cx="125.1" cy="216.2" r="2.20" fill="#fcb216"/>
<circle cx="125.6" cy="220.1" r="2.20" fill="#f78212"/>
<circle cx="125.1" cy="225.7" r="2.20" fill="#f78212"/>
<circle cx="125.6" cy="227.4" r="2.20" fill="#fa9207"/>
<circle cx="126.2" cy="227.2" r="2.20" fill="#fca80d"/>
<circle cx="126.8" cy="227.5" r="2.20" fill="#fcae12"/>
<circle cx="127.3" cy="229.1" r="2.20" fill="#fcb216"/>
<circle cx="127.9" cy="232.5" r="2.20" fill="#fb9706"/>
<circle cx="128.6" cy="233.0" r="2.20" fill="#f78212"/>
<circle cx="127.9" cy="237.5" r="2.20" fill="#f78212"/>
<circle cx="128.4" cy="239.6" r="2.20" fill="#fa9207"/>
<circle cx="129.0" cy="240.5" r="2.20" fill="#fb9d07"/>
<circle cx="129.6" cy="240.1" r="2.20" fill="#fca50a"/>
<circle cx="130.1" cy="241.0" r="2.20" fill="#fcaa0f"/>
<circle cx="130.6" cy="239.1" r="2.20" fill="#f8cd37"/>
<circle cx="131.2" cy="235.3" r="2.20" fill="#f6d746"/>
<circle cx="131.8" cy="234.6" r="2.20" fill="#fbb61a"/>
<circle cx="132.3" cy="235.4" r="2.20" fill="#fc9f07"/>
<circle cx="132.9" cy="231.9" r="2.20" fill="#f78212"/>
<circle cx="133.5" cy="232.6" r="2.20" fill="#f98b0b"/>
<circle cx="134.0" cy="234.2" r="2.20" fill="#fcaa0f"/>
<circle cx="134.6" cy="235.8" r="2.20" fill="#fcb216"/>
<circle cx="135.1" cy="239.3" r="2.20" fill="#fa9008"/>
<circle cx="135.7" cy="242.6" r="2.20" fill="#f78212"/>
<circle cx="136.3" cy="239.7" r="2.20" fill="#fcb216"/>
<circle cx="136.9" cy="238.1" r="2.20" fill="#f6d746"/>
<circle cx="137.4" cy="236.8" r="2.20" fill="#f9cb35"/>
<circle cx="138.0" cy="237.8" r="2.20" fill="#f9c932"/>
<circle cx="138.5" cy="240.3" r="2.20" fill="#fcb216"/>
<circle cx="139.1" cy="236.7" r="2.20" fill="#fca108"/>
<circle cx="139.6" cy="235.0" r="2.20" fill="#fb9906"/>
<circle cx="140.2" cy="238.1" r="2.20" fill="#f78212"/>
<circle cx="139.9" cy="243.7" r="2.20" fill="#f78212"/>
<circle cx="140.4" cy="247.0" r="2.20" fill="#f8850f"/>
<circle cx="140.8" cy="248.2" r="2.20" fill="#f78212"/>
<circle cx="141.4" cy="250.9" r="2.20" fill="#f78212"/>
<circle cx="141.9" cy="251.6" r="2.20" fill="#f78212"/>
<circle cx="142.5" cy="257.2" r="2.20" fill="#f6d746"/>
<circle cx="143.1" cy="269.4" r="2.20" fill="#e8602d"/>
<circle cx="142.9" cy="272.5" r="2.20" fill="#f78212"/>
<circle cx="143.4" cy="275.7" r="2.20" fill="#e25734"/>
<circle cx="144.0" cy="278.8" r="2.20" fill="#bc3754"/>
<circle cx="144.4" cy="277.9" r="2.20" fill="#8d2369"/>
<circle cx="144.9" cy="276.6" r="2.20" fill="#540f6d"/>
<circle cx="146.3" cy="268.9" r="2.20" fill="#540f6d"/>
<circle cx="146.8" cy="270.0" r="2.20" fill="#390963"/>
<circle cx="147.2" cy="273.4" r="2.20" fill="#1f0c48"/>
<circle cx="147.6" cy="277.8" r="2.20" fill="#1b0c41"/>
<circle cx="148.1" cy="279.3" r="2.20" fill="#1f0c48"/>
<circle cx="148.7" cy="279.3" r="2.20" fill="#320a5e"/>
<circle cx="149.3" cy="276.6" r="2.20" fill="#290b55"/>
<circle cx="149.9" cy="272.5" r="2.20" fill="#390963"/>
<circle cx="150.3" cy="276.6" r="2.20" fill="#1f0c48"/>
<circle cx="150.9" cy="277.7" r="2.20" fill="#1c0c43"/>
<circle cx="151.4" cy="278.7" r="2.20" fill="#190c3e"/>
<circle cx="152.0" cy="282.3" r="2.20" fill="#180c3c"/>
<circle cx="152.6" cy="280.2" r="2.20" fill="#1f0c48"/>
<circle cx="153.1" cy="278.2" r="2.20" fill="#2b0b57"/>
<circle cx="153.5" cy="276.6" r="2.20" fill="#390963"/>
<circle cx="154.8" cy="266.2" r="2.20" fill="#1f0c48"/>
<circle cx="156.2" cy="273.4" r="2.20" fill="#390963"/>
<circle cx="156.8" cy="272.6" r="2.20" fill="#2b0b57"/>
<circle cx="157.4" cy="268.2" r="2.20" fill="#2f0a5b"/>
<circle cx="158.0" cy="268.5" r="2.20" fill="#1f0c48"/>
<circle cx="157.5" cy="274.8" r="2.20" fill="#540f6d"/>
<circle cx="158.1" cy="275.3" r="2.20" fill="#4a0c6b"/>
<circle cx="158.7" cy="275.0" r="2.20" fill="#520e6d"/>
<circle cx="159.3" cy="273.9" r="2.20" fill="#540f6d"/>
<circle cx="159.8" cy="277.2" r="2.20" fill="#4f0d6c"/>
<circle cx="160.2" cy="277.9" r="2.20" fill="#540f6d"/>
<circle cx="160.7" cy="281.5" r="2.20" fill="#7c1d6d"/>
<circle cx="161.1" cy="287.8" r="2.20" fill="#7c1d6d"/>
<circle cx="162.3" cy="312.0" r="2.20" fill="#390963"/>
<circle cx="163.6" cy="324.1" r="2.20" fill="#1f0c48"/>
<circle cx="164.5" cy="333.1" r="2.20" fill="#1f0c48"/>
<circle cx="165.1" cy="328.9" r="2.20" fill="#190c3e"/>
<circle cx="165.7" cy="327.1" r="2.20" fill="#260c51"/>
<circle cx="166.3" cy="325.0" r="2.20" fill="#1f0c48"/>
<circle cx="166.8" cy="322.7" r="2.20" fill="#190c3e"/>
<circle cx="167.2" cy="322.4" r="2.20" fill="#280b53"/>
<circle cx="167.7" cy="321.4" r="2.20" fill="#1f0c48"/>
<circle cx="168.1" cy="317.4" r="2.20" fill="#390963"/>
<circle cx="169.0" cy="325.9" r="2.20" fill="#1f0c48"/>
<circle cx="169.6" cy="326.4" r="2.20" fill="#1e0c45"/>
<circle cx="170.2" cy="329.0" r="2.20" fill="#280b53"/>
<circle cx="170.7" cy="328.4" r="2.20" fill="#2f0a5b"/>
<circle cx="171.3" cy="331.3" r="2.20" fill="#390963"/>
<circle cx="171.7" cy="325.9" r="2.20" fill="#1f0c48"/>
<circle cx="172.3" cy="324.6" r="2.20" fill="#2d0b59"/>
<circle cx="172.9" cy="322.7" r="2.20" fill="#2f0a5b"/>
<circle cx="173.5" cy="324.1" r="2.20" fill="#390963"/>
<circle cx="174.9" cy="316.0" r="2.20" fill="#390963"/>
<circle cx="175.4" cy="319.4" r="2.20" fill="#420a68"/>
<circle cx="175.8" cy="322.3" r="2.20" fill="#540f6d"/>
<circle cx="176.4" cy="325.9" r="2.20" fill="#540f6d"/>
<circle cx="177.0" cy="325.8" r="2.20" fill="#550f6d"/>
<circle cx="177.6" cy="325.0" r="2.20" fill="#540f6d"/>
<circle cx="177.8" cy="330.9" r="2.20" fill="#390963"/>
<circle cx="178.9" cy="321.0" r="2.20" fill="#bc3754"/>
<circle cx="180.3" cy="313.8" r="2.20" fill="#d24644"/>
<circle cx="180.9" cy="307.7" r="2.20" fill="#d24644"/>
<circle cx="181.6" cy="307.0" r="2.20" fill="#bc3754"/>
<circle cx="182.2" cy="308.1" r="2.20" fill="#b0315b"/>
<circle cx="182.8" cy="306.2" r="2.20" fill="#bc3754"/>
<circle cx="183.4" cy="308.8" r="2.20" fill="#bc3754"/>
<circle cx="184.3" cy="317.8" r="2.20" fill="#d24644"/>
<circle cx="185.2" cy="310.6" r="2.20" fill="#d24644"/>
<circle cx="185.6" cy="308.3" r="2.20" fill="#d04545"/>
<circle cx="186.1" cy="304.3" r="2.20" fill="#d24644"/>
<circle cx="186.6" cy="305.6" r="2.20" fill="#cb4149"/>
<circle cx="187.0" cy="307.2" r="2.20" fill="#d24644"/>
<circle cx="187.5" cy="307.9" r="2.20" fill="#d24644"/>
<circle cx="188.2" cy="307.9" r="2.20" fill="#e35933"/>
<circle cx="188.8" cy="310.6" r="2.20" fill="#e8602d"/>
<circle cx="189.3" cy="308.2" r="2.20" fill="#f37819"/>
<circle cx="189.7" cy="309.7" r="2.20" fill="#f78410"/>
<circle cx="190.2" cy="307.9" r="2.20" fill="#f78212"/>
<circle cx="190.8" cy="305.4" r="2.20" fill="#f8870e"/>
<circle cx="191.5" cy="305.2" r="2.20" fill="#f78212"/>
<circle cx="192.0" cy="305.9" r="2.20" fill="#fa9008"/>
<circle cx="192.5" cy="306.9" r="2.20" fill="#f57b17"/>
<circle cx="193.0" cy="304.9" r="2.20" fill="#f78212"/>
<circle cx="193.5" cy="306.2" r="2.20" fill="#f78212"/>
<circle cx="194.0" cy="304.4" r="2.20" fill="#fca108"/>
<circle cx="194.5" cy="301.3" r="2.20" fill="#fcaa0f"/>
<circle cx="195.0" cy="301.9" r="2.20" fill="#fcb216"/>
<circle cx="195.5" cy="302.9" r="2.20" fill="#fbbe23"/>
<circle cx="195.9" cy="299.6" r="2.20" fill="#f9cb35"/>
<circle cx="196.4" cy="306.6" r="2.20" fill="#f6d746"/>
<circle cx="196.9" cy="307.4" r="2.20" fill="#f6d746"/>
<circle cx="197.4" cy="317.2" r="2.20" fill="#f6d746"/>
<circle cx="197.9" cy="318.4" r="2.20" fill="#f6d746"/>
<circle cx="198.4" cy="318.8" r="2.20" fill="#f6d746"/>
<circle cx="198.9" cy="315.9" r="2.20" fill="#f6d746"/>
<circle cx="199.4" cy="318.6" r="2.20" fill="#f9c72f"/>
<circle cx="199.9" cy="316.8" r="2.20" fill="#f6d746"/>
<circle cx="198.5" cy="321.7" r="2.20" fill="#f6d746"/>
<circle cx="199.1" cy="325.9" r="2.20" fill="#f8cf3a"/>
<circle cx="199.7" cy="325.0" r="2.20" fill="#f6d746"/>
<circle cx="200.2" cy="323.5" r="2.20" fill="#f8cf3a"/>
<circle cx="200.8" cy="321.7" r="2.20" fill="#f6d746"/>
<circle cx="201.4" cy="325.6" r="2.20" fill="#f6d746"/>
<circle cx="201.9" cy="326.0" r="2.20" fill="#f9c932"/>
<circle cx="202.4" cy="327.4" r="2.20" fill="#f6d746"/>
<circle cx="202.9" cy="325.9" r="2.20" fill="#f6d746"/>
<circle cx="203.4" cy="327.1" r="2.20" fill="#f6d746"/>
<circle cx="203.9" cy="328.9" r="2.20" fill="#f6d746"/>
<circle cx="204.4" cy="329.1" r="2.20" fill="#f7d13d"/>
<circle cx="204.8" cy="331.6" r="2.20" fill="#f6d746"/>
<circle cx="205.3" cy="332.4" r="2.20" fill="#f6d543"/>
<circle cx="205.8" cy="328.1" r="2.20" fill="#f6d746"/>
<circle cx="206.3" cy="330.0" r="2.20" fill="#f8cf3a"/>
<circle cx="206.8" cy="333.5" r="2.20" fill="#fcb216"/>
<circle cx="208.3" cy="317.7" r="2.20" fill="#f6d746"/>
<circle cx="208.8" cy="318.4" r="2.20" fill="#f6d746"/>
<circle cx="209.3" cy="313.6" r="2.20" fill="#f6d746"/>
<circle cx="209.8" cy="310.2" r="2.20" fill="#f6d746"/>
<circle cx="210.3" cy="312.3" r="2.20" fill="#f6d746"/>
<circle cx="210.8" cy="325.6" r="2.20" fill="#fcb216"/>
<circle cx="211.3" cy="326.0" r="2.20" fill="#fbba1f"/>
<circle cx="211.8" cy="325.8" r="2.20" fill="#fcb014"/>
<circle cx="212.3" cy="325.9" r="2.20" fill="#fca60c"/>
<circle cx="212.8" cy="325.6" r="2.20" fill="#fcb216"/>
<circle cx="213.3" cy="327.7" r="2.20" fill="#fbb61a"/>
<circle cx="213.8" cy="327.7" r="2.20" fill="#fbb81d"/>
<circle cx="214.2" cy="327.7" r="2.20" fill="#fac228"/>
<circle cx="214.7" cy="331.1" r="2.20" fill="#fcb216"/>
<circle cx="215.2" cy="335.5" r="2.20" fill="#fcb216"/>
<circle cx="215.7" cy="339.1" r="2.20" fill="#fbbc21"/>
<circle cx="216.2" cy="339.2" r="2.20" fill="#fbba1f"/>
<circle cx="216.7" cy="339.3" r="2.20" fill="#fbbc21"/>
<circle cx="217.2" cy="335.1" r="2.20" fill="#fbb61a"/>
<circle cx="217.7" cy="330.6" r="2.20" fill="#fcb216"/>
<circle cx="218.2" cy="326.7" r="2.20" fill="#fca309"/>
<circle cx="218.7" cy="329.2" r="2.20" fill="#fa9207"/>
<circle cx="219.2" cy="332.3" r="2.20" fill="#fb9606"/>
<circle cx="219.7" cy="329.8" r="2.20" fill="#f8890c"/>
<circle cx="220.2" cy="331.1" r="2.20" fill="#f78212"/>
<circle cx="220.7" cy="328.3" r="2.20" fill="#f3761b"/>
<circle cx="221.1" cy="327.5" r="2.20" fill="#f47918"/>
<circle cx="221.6" cy="324.7" r="2.20" fill="#f78212"/>
<circle cx="222.1" cy="329.2" r="2.20" fill="#f98c0a"/>
<circle cx="222.6" cy="326.2" r="2.20" fill="#f68013"/>
<circle cx="223.1" cy="327.4" r="2.20" fill="#f57d15"/>
<circle cx="223.6" cy="329.6" r="2.20" fill="#f78212"/>
<circle cx="224.1" cy="334.1" r="2.20" fill="#fb9906"/>
<circle cx="224.6" cy="334.4" r="2.20" fill="#f98c0a"/>
<circle cx="225.1" cy="333.8" r="2.20" fill="#fca60c"/>
<circle cx="225.6" cy="332.6" r="2.20" fill="#fb9b06"/>
<circle cx="226.1" cy="331.6" r="2.20" fill="#fcb216"/>
<circle cx="226.6" cy="332.2" r="2.20" fill="#fcae12"/>
<circle cx="227.1" cy="331.1" r="2.20" fill="#fcac11"/>
<circle cx="227.6" cy="329.6" r="2.20" fill="#fac026"/>
<circle cx="228.1" cy="330.6" r="2.20" fill="#fac228"/>
<circle cx="228.6" cy="331.6" r="2.20" fill="#fcb216"/>
<circle cx="229.1" cy="329.5" r="2.20" fill="#fac026"/>
<circle cx="229.6" cy="329.5" r="2.20" fill="#fac228"/>
<circle cx="230.0" cy="328.9" r="2.20" fill="#fbba1f"/>
<circle cx="230.5" cy="330.4" r="2.20" fill="#f9cb35"/>
<circle cx="231.0" cy="330.6" r="2.20" fill="#f6d746"/>
<circle cx="231.5" cy="328.8" r="2.20" fill="#fac228"/>
<circle cx="232.0" cy="328.8" r="2.20" fill="#fca50a"/>
<circle cx="232.5" cy="325.6" r="2.20" fill="#f78212"/>
<circle cx="233.0" cy="325.5" r="2.20" fill="#fc9f07"/>
<circle cx="233.5" cy="321.7" r="2.20" fill="#fcb216"/>
<circle cx="234.0" cy="324.2" r="2.20" fill="#fcae12"/>
<circle cx="234.5" cy="324.7" r="2.20" fill="#fa9407"/>
<circle cx="235.0" cy="323.9" r="2.20" fill="#f78212"/>
<circle cx="235.5" cy="322.2" r="2.20" fill="#f78212"/>
<circle cx="236.0" cy="322.3" r="2.20" fill="#f57d15"/>
<circle cx="236.5" cy="322.9" r="2.20" fill="#f98b0b"/>
<circle cx="237.0" cy="321.9" r="2.20" fill="#f47918"/>
<circle cx="237.5" cy="323.7" r="2.20" fill="#f78212"/>
<circle cx="237.9" cy="322.6" r="2.20" fill="#f98b0b"/>
<circle cx="238.4" cy="319.2" r="2.20" fill="#f78212"/>
<circle cx="238.9" cy="321.4" r="2.20" fill="#f8890c"/>
<circle cx="239.4" cy="321.6" r="2.20" fill="#f57b17"/>
<circle cx="239.9" cy="322.7" r="2.20" fill="#f78212"/>
<circle cx="240.6" cy="336.7" r="2.20" fill="#d24644"/>
<circle cx="241.0" cy="344.2" r="2.20" fill="#390963"/>
<circle cx="240.8" cy="357.5" r="2.20" fill="#9b2964"/>
<circle cx="242.3" cy="349.2" r="2.20" fill="#1f0c48"/>
<circle cx="242.9" cy="350.3" r="2.20" fill="#1c0c43"/>
<circle cx="243.5" cy="351.7" r="2.20" fill="#1f0c48"/>
<circle cx="244.1" cy="352.3" r="2.20" fill="#230c4c"/>
<circle cx="244.6" cy="351.8" r="2.20" fill="#280b53"/>
<circle cx="245.2" cy="350.0" r="2.20" fill="#1f0c48"/>
<circle cx="245.8" cy="352.1" r="2.20" fill="#2d0b59"/>
<circle cx="246.5" cy="353.0" r="2.20" fill="#1f0c48"/>
<circle cx="247.1" cy="355.8" r="2.20" fill="#160b39"/>
<circle cx="247.7" cy="357.5" r="2.20" fill="#1f0c48"/>
<circle cx="248.1" cy="357.3" r="2.20" fill="#1e0c45"/>
<circle cx="248.5" cy="352.5" r="2.20" fill="#390963"/>
<circle cx="249.0" cy="352.2" r="2.20" fill="#320a5e"/>
<circle cx="249.6" cy="349.5" r="2.20" fill="#450a69"/>
<circle cx="250.1" cy="349.4" r="2.20" fill="#340a5f"/>
<circle cx="250.6" cy="351.7" r="2.20" fill="#390963"/>
<circle cx="251.2" cy="348.9" r="2.20" fill="#4f0d6c"/>
<circle cx="251.7" cy="348.7" r="2.20" fill="#510e6c"/>
<circle cx="252.3" cy="346.7" r="2.20" fill="#540f6d"/>
<circle cx="252.8" cy="346.5" r="2.20" fill="#5c126e"/>
<circle cx="253.3" cy="342.3" r="2.20" fill="#57106e"/>
<circle cx="253.8" cy="345.1" r="2.20" fill="#4c0c6b"/>
<circle cx="254.3" cy="347.5" r="2.20" fill="#540f6d"/>
<circle cx="254.9" cy="349.8" r="2.20" fill="#5f136e"/>
<circle cx="255.4" cy="349.4" r="2.20" fill="#540f6d"/>
<circle cx="256.0" cy="346.2" r="2.20" fill="#540f6d"/>
<circle cx="256.5" cy="342.6" r="2.20" fill="#6a176e"/>
<circle cx="257.1" cy="345.4" r="2.20" fill="#a22b62"/>
<circle cx="257.6" cy="345.7" r="2.20" fill="#b73557"/>
<circle cx="258.1" cy="347.0" r="2.20" fill="#d24644"/>
<circle cx="258.7" cy="346.6" r="2.20" fill="#da4e3c"/>
<circle cx="259.3" cy="341.7" r="2.20" fill="#d24644"/>
<circle cx="260.0" cy="344.2" r="2.20" fill="#bd3853"/>
<circle cx="260.6" cy="346.2" r="2.20" fill="#bc3754"/>
<circle cx="260.4" cy="350.0" r="2.20" fill="#e8602d"/>
<circle cx="261.0" cy="352.6" r="2.20" fill="#f1711f"/>
<circle cx="261.6" cy="353.4" r="2.20" fill="#ee6a24"/>
<circle cx="262.2" cy="351.7" r="2.20" fill="#f78212"/>
<circle cx="262.7" cy="351.0" r="2.20" fill="#f8890c"/>
<circle cx="263.2" cy="350.4" r="2.20" fill="#fa9008"/>
<circle cx="263.8" cy="350.5" r="2.20" fill="#f57b17"/>
<circle cx="264.3" cy="349.2" r="2.20" fill="#f78212"/>
<circle cx="264.8" cy="351.6" r="2.20" fill="#f67e14"/>
<circle cx="265.3" cy="350.1" r="2.20" fill="#f8870e"/>
<circle cx="265.8" cy="350.5" r="2.20" fill="#fca309"/>
<circle cx="266.3" cy="350.2" r="2.20" fill="#fcb014"/>
<circle cx="266.8" cy="350.4" r="2.20" fill="#fcb216"/>
<circle cx="267.3" cy="352.2" r="2.20" fill="#fcaa0f"/>
<circle cx="267.8" cy="349.7" r="2.20" fill="#fcac11"/>
<circle cx="268.3" cy="350.3" r="2.20" fill="#fca80d"/>
<circle cx="268.8" cy="351.0" r="2.20" fill="#fcaa0f"/>
<circle cx="269.3" cy="350.0" r="2.20" fill="#fcb216"/>
<circle cx="269.9" cy="349.1" r="2.20" fill="#fb9906"/>
<circle cx="270.4" cy="348.6" r="2.20" fill="#fc9f07"/>
<circle cx="271.0" cy="348.3" r="2.20" fill="#f78212"/>
<circle cx="271.5" cy="347.2" r="2.20" fill="#f8890c"/>
<circle cx="272.1" cy="345.5" r="2.20" fill="#f98e09"/>
<circle cx="272.6" cy="345.8" r="2.20" fill="#f78212"/>
<circle cx="273.2" cy="344.7" r="2.20" fill="#f8870e"/>
<circle cx="273.9" cy="341.7" r="2.20" fill="#f78212"/>
<circle cx="274.7" cy="334.6" r="2.20" fill="#fcb216"/>
<circle cx="275.2" cy="330.2" r="2.20" fill="#fac026"/>
<circle cx="275.8" cy="327.9" r="2.20" fill="#fcb216"/>
<circle cx="276.5" cy="320.8" r="2.20" fill="#fcb216"/>
<circle cx="276.9" cy="320.2" r="2.20" fill="#fcac11"/>
<circle cx="277.4" cy="319.0" r="2.20" fill="#fcb216"/>
<circle cx="277.9" cy="315.9" r="2.20" fill="#fcae12"/>
<circle cx="278.5" cy="314.6" r="2.20" fill="#fcaa0f"/>
<circle cx="279.1" cy="310.4" r="2.20" fill="#fca80d"/>
<circle cx="279.6" cy="310.0" r="2.20" fill="#fcb216"/>
<circle cx="280.1" cy="309.0" r="2.20" fill="#fc9f07"/>
<circle cx="280.5" cy="307.7" r="2.20" fill="#fb9606"/>
<circle cx="281.0" cy="308.2" r="2.20" fill="#f78212"/>
<circle cx="281.5" cy="306.4" r="2.20" fill="#fb9606"/>
<circle cx="282.1" cy="305.9" r="2.20" fill="#f8890c"/>
<circle cx="282.6" cy="304.2" r="2.20" fill="#fb9d07"/>
<circle cx="283.2" cy="303.9" r="2.20" fill="#fcae12"/>
<circle cx="283.7" cy="305.0" r="2.20" fill="#fcb216"/>
<circle cx="284.2" cy="300.5" r="2.20" fill="#fcaa0f"/>
<circle cx="284.8" cy="304.7" r="2.20" fill="#f8cd37"/>
<circle cx="285.3" cy="303.7" r="2.20" fill="#f9c932"/>
<circle cx="285.9" cy="304.0" r="2.20" fill="#fac62d"/>
<circle cx="286.4" cy="305.5" r="2.20" fill="#f6d746"/>
<circle cx="287.0" cy="305.0" r="2.20" fill="#f6d746"/>
<circle cx="287.6" cy="309.7" r="2.20" fill="#f6d746"/>
<circle cx="288.2" cy="308.2" r="2.20" fill="#f6d746"/>
<circle cx="288.9" cy="310.5" r="2.20" fill="#f9c72f"/>
<circle cx="289.5" cy="312.7" r="2.20" fill="#f6d746"/>
<circle cx="290.0" cy="312.8" r="2.20" fill="#f6d746"/>
<circle cx="290.4" cy="314.5" r="2.20" fill="#f6d746"/>
<circle cx="290.9" cy="315.8" r="2.20" fill="#f6d746"/>
<circle cx="291.5" cy="315.7" r="2.20" fill="#f6d746"/>
<circle cx="292.2" cy="313.6" r="2.20" fill="#f6d746"/>
<circle cx="292.6" cy="309.2" r="2.20" fill="#f6d746"/>
<circle cx="293.1" cy="307.3" r="2.20" fill="#f6d746"/>
<circle cx="293.6" cy="301.0" r="2.20" fill="#f6d746"/>
<circle cx="294.2" cy="299.5" r="2.20" fill="#f7d340"/>
<circle cx="294.8" cy="299.5" r="2.20" fill="#f7d13d"/>
<circle cx="295.4" cy="299.2" r="2.20" fill="#f6d746"/>
<circle cx="296.0" cy="301.7" r="2.20" fill="#f6d746"/>
<circle cx="296.7" cy="302.8" r="2.20" fill="#f6d746"/>
<circle cx="297.2" cy="304.9" r="2.20" fill="#f6d746"/>
<circle cx="297.6" cy="306.1" r="2.20" fill="#f6d746"/>
<circle cx="298.1" cy="306.8" r="2.20" fill="#f6d746"/>
<circle cx="298.7" cy="307.4" r="2.20" fill="#f8cd37"/>
<circle cx="299.3" cy="304.8" r="2.20" fill="#fbbe23"/>
<circle cx="299.9" cy="305.5" r="2.20" fill="#fcb216"/>
<circle cx="300.5" cy="307.6" r="2.20" fill="#fbbe23"/>
<circle cx="301.1" cy="308.9" r="2.20" fill="#fcac11"/>
<circle cx="301.7" cy="310.0" r="2.20" fill="#fcb216"/>
<circle cx="302.4" cy="310.0" r="2.20" fill="#fbba1f"/>
<circle cx="303.0" cy="312.2" r="2.20" fill="#fcb216"/>
<circle cx="303.5" cy="315.4" r="2.20" fill="#fcb216"/>
<circle cx="304.8" cy="323.0" r="2.20" fill="#e8602d"/>
<circle cx="305.3" cy="315.4" r="2.20" fill="#f78212"/>
<circle cx="305.7" cy="325.3" r="2.20" fill="#e8602d"/>
<circle cx="306.2" cy="302.8" r="2.20" fill="#e8602d"/>
<circle cx="306.6" cy="301.7" r="2.20" fill="#ce4347"/>
<circle cx="307.1" cy="300.5" r="2.20" fill="#9b2964"/>
<circle cx="307.6" cy="299.9" r="2.20" fill="#9d2964"/>
<circle cx="308.0" cy="299.1" r="2.20" fill="#7c1d6d"/>
<circle cx="308.5" cy="297.2" r="2.20" fill="#7c1d6d"/>
<circle cx="308.9" cy="288.7" r="2.20" fill="#7c1d6d"/>
<circle cx="308.1" cy="285.5" r="2.20" fill="#540f6d"/>
<circle cx="308.6" cy="281.7" r="2.20" fill="#57106e"/>
<circle cx="309.2" cy="283.7" r="2.20" fill="#400a67"/>
<circle cx="309.7" cy="282.2" r="2.20" fill="#390963"/>
<circle cx="310.2" cy="285.0" r="2.20" fill="#3d0965"/>
<circle cx="310.8" cy="284.7" r="2.20" fill="#240c4f"/>
<circle cx="311.3" cy="283.8" r="2.20" fill="#1f0c48"/>
<circle cx="312.0" cy="280.9" r="2.20" fill="#290b55"/>
<circle cx="312.6" cy="281.4" r="2.20" fill="#1f0c48"/>
<circle cx="313.2" cy="282.4" r="2.20" fill="#160b39"/>
<circle cx="313.8" cy="286.3" r="2.20" fill="#1f0c48"/>
<circle cx="314.4" cy="284.8" r="2.20" fill="#230c4c"/>
<circle cx="315.0" cy="283.0" r="2.20" fill="#390963"/>
<circle cx="315.5" cy="282.0" r="2.20" fill="#2b0b57"/>
<circle cx="316.1" cy="279.5" r="2.20" fill="#390963"/>
<circle cx="316.6" cy="280.6" r="2.20" fill="#390963"/>
<circle cx="317.0" cy="281.8" r="2.20" fill="#4a0c6b"/>
<circle cx="317.4" cy="283.8" r="2.20" fill="#540f6d"/>
<circle cx="317.9" cy="284.4" r="2.20" fill="#550f6d"/>
<circle cx="318.4" cy="285.8" r="2.20" fill="#6f196e"/>
<circle cx="318.9" cy="283.4" r="2.20" fill="#741a6e"/>
<circle cx="319.4" cy="283.0" r="2.20" fill="#7c1d6d"/>
<circle cx="319.9" cy="281.9" r="2.20" fill="#952667"/>
<circle cx="320.4" cy="284.0" r="2.20" fill="#a82e5f"/>
<circle cx="321.0" cy="280.9" r="2.20" fill="#c03a51"/>
<circle cx="321.5" cy="281.4" r="2.20" fill="#d24644"/>
<circle cx="321.1" cy="274.1" r="2.20" fill="#9b2964"/>
<circle cx="321.7" cy="273.1" r="2.20" fill="#952667"/>
<circle cx="322.3" cy="272.1" r="2.20" fill="#9b2964"/>
<circle cx="322.8" cy="273.5" r="2.20" fill="#b0315b"/>
<circle cx="323.3" cy="274.2" r="2.20" fill="#a32c61"/>
<circle cx="323.8" cy="272.0" r="2.20" fill="#bd3853"/>
<circle cx="324.3" cy="271.7" r="2.20" fill="#bc3754"/>
<circle cx="324.8" cy="271.6" r="2.20" fill="#c43c4e"/>
<circle cx="325.4" cy="272.1" r="2.20" fill="#c83f4b"/>
<circle cx="325.9" cy="272.9" r="2.20" fill="#d24644"/>
<circle cx="325.5" cy="276.6" r="2.20" fill="#e8602d"/>
<circle cx="325.9" cy="276.6" r="2.20" fill="#e9612b"/>
<circle cx="326.3" cy="280.6" r="2.20" fill="#e8602d"/>
<circle cx="326.9" cy="283.0" r="2.20" fill="#ef6e21"/>
<circle cx="327.5" cy="286.0" r="2.20" fill="#f78212"/>
<circle cx="327.9" cy="283.3" r="2.20" fill="#f57b17"/>
<circle cx="328.3" cy="282.2" r="2.20" fill="#f78212"/>
<circle cx="328.9" cy="281.5" r="2.20" fill="#fb9d07"/>
<circle cx="329.4" cy="278.3" r="2.20" fill="#fcae12"/>
<circle cx="330.0" cy="278.2" r="2.20" fill="#fcb216"/>
<circle cx="330.4" cy="278.6" r="2.20" fill="#f9c72f"/>
<circle cx="330.8" cy="276.2" r="2.20" fill="#f6d746"/>
<circle cx="331.3" cy="277.6" r="2.20" fill="#f8cf3a"/>
<circle cx="331.8" cy="278.0" r="2.20" fill="#f8cd37"/>
<circle cx="332.3" cy="278.9" r="2.20" fill="#f6d746"/>
<circle cx="332.8" cy="279.4" r="2.20" fill="#f6d746"/>
<circle cx="333.3" cy="278.2" r="2.20" fill="#f6d746"/>
<circle cx="333.9" cy="279.9" r="2.20" fill="#f9cb35"/>
<circle cx="334.4" cy="280.1" r="2.20" fill="#f9c72f"/>
<circle cx="334.9" cy="276.0" r="2.20" fill="#f6d746"/>
<circle cx="335.4" cy="280.2" r="2.20" fill="#f6d746"/>
<circle cx="335.8" cy="280.5" r="2.20" fill="#f6d746"/>
<circle cx="336.5" cy="279.8" r="2.20" fill="#fb9d07"/>
<circle cx="337.1" cy="285.0" r="2.20" fill="#f78212"/>
<circle cx="337.7" cy="285.6" r="2.20" fill="#fa9407"/>
<circle cx="338.3" cy="287.5" r="2.20" fill="#fcac11"/>
<circle cx="338.9" cy="287.7" r="2.20" fill="#f6d746"/>
<circle cx="339.5" cy="288.8" r="2.20" fill="#fac228"/>
<circle cx="340.0" cy="289.0" r="2.20" fill="#f9cb35"/>
<circle cx="340.6" cy="288.5" r="2.20" fill="#fcb216"/>
<circle cx="341.2" cy="286.8" r="2.20" fill="#fcb216"/>
<circle cx="341.8" cy="287.8" r="2.20" fill="#fbba1f"/>
<circle cx="342.3" cy="289.1" r="2.20" fill="#fcb216"/>
<circle cx="342.8" cy="289.8" r="2.20" fill="#fbb81d"/>
<circle cx="343.4" cy="288.6" r="2.20" fill="#fcb216"/>
<circle cx="344.0" cy="289.1" r="2.20" fill="#fcae12"/>
<circle cx="344.6" cy="288.7" r="2.20" fill="#fca60c"/>
<circle cx="345.2" cy="290.4" r="2.20" fill="#fcb216"/>
<circle cx="345.8" cy="289.9" r="2.20" fill="#fcae12"/>
<circle cx="346.4" cy="287.2" r="2.20" fill="#fbb81d"/>
<circle cx="346.9" cy="285.8" r="2.20" fill="#fca60c"/>
<circle cx="347.5" cy="283.2" r="2.20" fill="#fcb216"/>
<circle cx="348.1" cy="286.6" r="2.20" fill="#fca60c"/>
<circle cx="348.8" cy="285.9" r="2.20" fill="#fcb216"/>
<circle cx="349.3" cy="283.0" r="2.20" fill="#fbba1f"/>
<circle cx="349.7" cy="285.9" r="2.20" fill="#f8cd37"/>
<circle cx="350.2" cy="287.7" r="2.20" fill="#f6d746"/>
<circle cx="350.9" cy="291.8" r="2.20" fill="#f9c72f"/>
<circle cx="351.5" cy="294.0" r="2.20" fill="#f6d746"/>
<circle cx="352.0" cy="291.6" r="2.20" fill="#f6d543"/>
<circle cx="352.4" cy="290.0" r="2.20" fill="#fbb81d"/>
<circle cx="352.9" cy="289.5" r="2.20" fill="#fcb216"/>
<circle cx="353.5" cy="287.4" r="2.20" fill="#fcaa0f"/>
<circle cx="354.1" cy="291.0" r="2.20" fill="#f98c0a"/>
<circle cx="354.7" cy="292.2" r="2.20" fill="#f78212"/>
<circle cx="355.3" cy="295.2" r="2.20" fill="#fa9008"/>
<circle cx="355.9" cy="295.4" r="2.20" fill="#f98e09"/>
<circle cx="356.5" cy="294.9" r="2.20" fill="#f78212"/>
<circle cx="356.9" cy="297.6" r="2.20" fill="#f78212"/>
<circle cx="358.3" cy="289.9" r="2.20" fill="#fcb216"/>
<circle cx="359.2" cy="281.8" r="2.20" fill="#f78212"/>
<circle cx="360.1" cy="273.3" r="2.20" fill="#e8602d"/>
<circle cx="360.7" cy="273.3" r="2.20" fill="#e65d2f"/>
<circle cx="361.3" cy="273.1" r="2.20" fill="#d74b3f"/>
<circle cx="361.9" cy="271.5" r="2.20" fill="#d24644"/>
<circle cx="362.5" cy="272.2" r="2.20" fill="#d44842"/>
<circle cx="363.1" cy="272.8" r="2.20" fill="#d74b3f"/>
<circle cx="363.7" cy="272.8" r="2.20" fill="#d24644"/>
<circle cx="364.2" cy="273.3" r="2.20" fill="#cc4248"/>
<circle cx="364.8" cy="270.7" r="2.20" fill="#cf4446"/>
<circle cx="365.3" cy="269.2" r="2.20" fill="#b63458"/>
<circle cx="365.9" cy="269.7" r="2.20" fill="#bc3754"/>
<circle cx="366.5" cy="272.4" r="2.20" fill="#b0315b"/>
<circle cx="367.1" cy="272.5" r="2.20" fill="#8d2369"/>
<circle cx="367.7" cy="273.7" r="2.20" fill="#7c1d6d"/>
<circle cx="368.3" cy="276.0" r="2.20" fill="#922568"/>
<circle cx="368.9" cy="273.3" r="2.20" fill="#8d2369"/>
<circle cx="369.5" cy="271.9" r="2.20" fill="#9b2964"/>
<circle cx="370.1" cy="272.5" r="2.20" fill="#7f1e6c"/>
<circle cx="370.6" cy="270.5" r="2.20" fill="#721a6e"/>
<circle cx="371.2" cy="269.5" r="2.20" fill="#6c186e"/>
<circle cx="371.8" cy="267.9" r="2.20" fill="#540f6d"/>
<circle cx="371.9" cy="272.4" r="2.20" fill="#7c1d6d"/>
<circle cx="372.5" cy="274.1" r="2.20" fill="#751b6e"/>
<circle cx="373.0" cy="275.0" r="2.20" fill="#6c186e"/>
<circle cx="373.6" cy="274.2" r="2.20" fill="#540f6d"/>
<circle cx="374.2" cy="273.8" r="2.20" fill="#5f136e"/>
<circle cx="374.7" cy="274.0" r="2.20" fill="#62146e"/>
<circle cx="375.3" cy="273.7" r="2.20" fill="#7c1d6d"/>
<circle cx="375.9" cy="274.8" r="2.20" fill="#82206c"/>
<circle cx="376.5" cy="276.2" r="2.20" fill="#88226a"/>
<circle cx="377.1" cy="274.6" r="2.20" fill="#9b2964"/>
<circle cx="377.3" cy="278.2" r="2.20" fill="#bc3754"/>
<circle cx="377.8" cy="277.6" r="2.20" fill="#c03a51"/>
<circle cx="378.3" cy="277.8" r="2.20" fill="#d94d3d"/>
<circle cx="378.8" cy="276.3" r="2.20" fill="#d24644"/>
<circle cx="379.3" cy="275.6" r="2.20" fill="#dd513a"/>
<circle cx="379.8" cy="276.9" r="2.20" fill="#e8602d"/>
<circle cx="380.3" cy="276.2" r="2.20" fill="#e9612b"/>
<circle cx="380.8" cy="274.5" r="2.20" fill="#ec6726"/>
<circle cx="381.3" cy="276.8" r="2.20" fill="#e8602d"/>
<circle cx="381.9" cy="277.1" r="2.20" fill="#e9612b"/>
<circle cx="382.5" cy="277.2" r="2.20" fill="#ee6a24"/>
<circle cx="383.0" cy="278.1" r="2.20" fill="#f06f20"/>
<circle cx="383.6" cy="277.7" r="2.20" fill="#f78212"/>
<circle cx="384.2" cy="277.7" r="2.20" fill="#f8890c"/>
<circle cx="384.8" cy="276.6" r="2.20" fill="#fca108"/>
<circle cx="385.4" cy="275.0" r="2.20" fill="#fcb216"/>
<circle cx="386.0" cy="274.3" r="2.20" fill="#fcb014"/>
<circle cx="386.6" cy="274.0" r="2.20" fill="#f7d340"/>
<circle cx="387.2" cy="276.8" r="2.20" fill="#f6d746"/>
<circle cx="387.8" cy="277.4" r="2.20" fill="#fac42a"/>
<circle cx="388.4" cy="277.5" r="2.20" fill="#fcb014"/>
<circle cx="389.0" cy="277.7" r="2.20" fill="#fcb216"/>
<circle cx="389.4" cy="280.4" r="2.20" fill="#fcb216"/>
<circle cx="389.9" cy="289.0" r="2.20" fill="#fcb216"/>
<circle cx="390.5" cy="289.3" r="2.20" fill="#fbbc21"/>
<circle cx="391.2" cy="292.6" r="2.20" fill="#fcb216"/>
<circle cx="391.8" cy="291.3" r="2.20" fill="#fb9706"/>
<circle cx="392.4" cy="293.6" r="2.20" fill="#fb9b06"/>
<circle cx="392.9" cy="291.9" r="2.20" fill="#f78410"/>
<circle cx="393.5" cy="290.8" r="2.20" fill="#f78212"/>
<circle cx="394.1" cy="291.2" r="2.20" fill="#fb9b06"/>
<circle cx="394.8" cy="293.0" r="2.20" fill="#fcb216"/>
<circle cx="395.4" cy="289.0" r="2.20" fill="#fb9b06"/>
<circle cx="396.0" cy="288.3" r="2.20" fill="#f78212"/>
<circle cx="396.6" cy="285.4" r="2.20" fill="#e8602d"/>
<circle cx="397.1" cy="289.0" r="2.20" fill="#f78212"/>
<circle cx="397.6" cy="290.0" r="2.20" fill="#f57d15"/>
<circle cx="398.0" cy="292.6" r="2.20" fill="#e8602d"/>
<circle cx="398.6" cy="289.7" r="2.20" fill="#eb6429"/>
<circle cx="399.2" cy="291.1" r="2.20" fill="#ed6925"/>
<circle cx="399.8" cy="291.7" r="2.20" fill="#e8602d"/>
<circle cx="400.4" cy="293.0" r="2.20" fill="#e55c30"/>
<circle cx="401.0" cy="293.8" r="2.20" fill="#e45a31"/>
<circle cx="401.6" cy="293.5" r="2.20" fill="#e8602d"/>
<circle cx="402.2" cy="291.6" r="2.20" fill="#ef6e21"/>
<circle cx="402.8" cy="294.8" r="2.20" fill="#ef6e21"/>
<circle cx="403.4" cy="296.6" r="2.20" fill="#f78212"/>
<circle cx="403.9" cy="297.6" r="2.20" fill="#f57d15"/>
<circle cx="404.3" cy="293.0" r="2.20" fill="#e8602d"/>
<circle cx="404.9" cy="294.8" r="2.20" fill="#f78212"/>
<circle cx="405.5" cy="290.2" r="2.20" fill="#fca108"/>
<circle cx="406.1" cy="289.9" r="2.20" fill="#fcb216"/>
<circle cx="406.7" cy="287.2" r="2.20" fill="#fca80d"/>
<circle cx="407.3" cy="288.7" r="2.20" fill="#fcae12"/>
<circle cx="407.9" cy="287.2" r="2.20" fill="#fcb216"/>
<circle cx="408.5" cy="289.7" r="2.20" fill="#f9cb35"/>
<circle cx="409.1" cy="288.4" r="2.20" fill="#fac42a"/>
<circle cx="409.7" cy="289.4" r="2.20" fill="#f6d746"/>
<circle cx="410.3" cy="290.0" r="2.20" fill="#f8cd37"/>
<circle cx="410.9" cy="290.3" r="2.20" fill="#f8cd37"/>
<circle cx="411.5" cy="291.7" r="2.20" fill="#fcb216"/>
<circle cx="412.1" cy="289.0" r="2.20" fill="#fbbe23"/>
<circle cx="412.8" cy="288.0" r="2.20" fill="#f6d746"/>
<circle cx="413.3" cy="284.2" r="2.20" fill="#f9cb35"/>
<circle cx="413.7" cy="283.0" r="2.20" fill="#f7d340"/>
<circle cx="414.2" cy="282.7" r="2.20" fill="#f6d746"/>
<circle cx="414.9" cy="282.3" r="2.20" fill="#fcac11"/>
<circle cx="415.5" cy="284.5" r="2.20" fill="#f78212"/>
<circle cx="416.1" cy="284.8" r="2.20" fill="#f57b17"/>
<circle cx="416.7" cy="285.0" r="2.20" fill="#f68013"/>
<circle cx="417.3" cy="283.1" r="2.20" fill="#f78212"/>
<circle cx="417.8" cy="282.2" r="2.20" fill="#f67e14"/>
<circle cx="418.2" cy="284.4" r="2.20" fill="#f37819"/>
<circle cx="418.7" cy="285.8" r="2.20" fill="#e8602d"/>
<circle cx="419.3" cy="286.5" r="2.20" fill="#d94d3d"/>
<circle cx="419.8" cy="286.1" r="2.20" fill="#e35933"/>
<circle cx="420.4" cy="288.0" r="2.20" fill="#d24644"/>
<circle cx="420.9" cy="285.0" r="2.20" fill="#c03a51"/>
<circle cx="421.3" cy="284.5" r="2.20" fill="#bc3754"/>
<circle cx="421.8" cy="284.1" r="2.20" fill="#b73557"/>
<circle cx="422.2" cy="284.8" r="2.20" fill="#9b2964"/>
<circle cx="422.7" cy="281.3" r="2.20" fill="#9b2964"/>
<circle cx="423.4" cy="282.5" r="2.20" fill="#721a6e"/>
<circle cx="424.0" cy="280.4" r="2.20" fill="#540f6d"/>
<circle cx="424.4" cy="278.9" r="2.20" fill="#510e6c"/>
<circle cx="424.9" cy="275.0" r="2.20" fill="#540f6d"/>
<circle cx="425.8" cy="263.3" r="2.20" fill="#1f0c48"/>
<circle cx="426.0" cy="258.0" r="2.20" fill="#1f0c48"/>
<circle cx="426.4" cy="258.5" r="2.20" fill="#1c0c43"/>
<circle cx="426.9" cy="256.2" r="2.20" fill="#1f0c48"/>
<circle cx="427.4" cy="252.9" r="2.20" fill="#2b0b57"/>
<circle cx="428.0" cy="251.7" r="2.20" fill="#160b39"/>
<circle cx="428.5" cy="253.3" r="2.20" fill="#2d0b59"/>
<circle cx="429.1" cy="250.0" r="2.20" fill="#280b53"/>
<circle cx="429.6" cy="252.6" r="2.20" fill="#1f0c48"/>
<circle cx="430.1" cy="251.5" r="2.20" fill="#210c4a"/>
<circle cx="430.7" cy="255.0" r="2.20" fill="#1f0c48"/>
<circle cx="431.2" cy="252.2" r="2.20" fill="#190c3e"/>
<circle cx="431.8" cy="251.4" r="2.20" fill="#190c3e"/>
<circle cx="432.3" cy="251.7" r="2.20" fill="#1f0c48"/>
<circle cx="432.9" cy="251.1" r="2.20" fill="#180c3c"/>
<circle cx="433.4" cy="250.3" r="2.20" fill="#1c0c43"/>
<circle cx="433.9" cy="249.2" r="2.20" fill="#190c3e"/>
<circle cx="434.5" cy="249.0" r="2.20" fill="#1f0c48"/>
<circle cx="435.0" cy="247.5" r="2.20" fill="#190c3e"/>
<circle cx="435.4" cy="246.0" r="2.20" fill="#1e0c45"/>
<circle cx="435.9" cy="245.4" r="2.20" fill="#1f0c48"/>
<circle cx="436.4" cy="246.0" r="2.20" fill="#1f0c48"/>
<circle cx="437.0" cy="246.6" r="2.20" fill="#1f0c48"/>
<circle cx="437.5" cy="246.8" r="2.20" fill="#390963"/>
<circle cx="438.1" cy="244.8" r="2.20" fill="#3d0965"/>
<circle cx="438.6" cy="244.5" r="2.20" fill="#390963"/>
<circle cx="439.2" cy="246.5" r="2.20" fill="#2f0a5b"/>
<circle cx="439.8" cy="246.9" r="2.20" fill="#320a5e"/>
<circle cx="440.4" cy="249.0" r="2.20" fill="#1f0c48"/>
<circle cx="441.0" cy="246.3" r="2.20" fill="#420a68"/>
<circle cx="441.7" cy="245.4" r="2.20" fill="#7c1d6d"/>
<circle cx="442.3" cy="245.0" r="2.20" fill="#88226a"/>
<circle cx="442.9" cy="243.9" r="2.20" fill="#84206b"/>
<circle cx="443.5" cy="244.5" r="2.20" fill="#9b2964"/>
<circle cx="444.1" cy="244.3" r="2.20" fill="#9d2964"/>
<circle cx="444.7" cy="245.3" r="2.20" fill="#a32c61"/>
<circle cx="445.3" cy="242.2" r="2.20" fill="#9b2964"/>
<circle cx="445.8" cy="240.4" r="2.20" fill="#b1325a"/>
<circle cx="446.2" cy="238.4" r="2.20" fill="#b3325a"/>
<circle cx="446.7" cy="237.7" r="2.20" fill="#bc3754"/>
<circle cx="447.1" cy="237.2" r="2.20" fill="#ab2f5e"/>
<circle cx="447.6" cy="235.5" r="2.20" fill="#9b2964"/>
<circle cx="448.0" cy="230.5" r="2.20" fill="#7c1d6d"/>
<circle cx="448.4" cy="227.9" r="2.20" fill="#71196e"/>
<circle cx="448.9" cy="225.1" r="2.20" fill="#540f6d"/>
<circle cx="449.5" cy="224.8" r="2.20" fill="#550f6d"/>
<circle cx="450.1" cy="224.9" r="2.20" fill="#520e6d"/>
<circle cx="450.7" cy="226.0" r="2.20" fill="#540f6d"/>
<circle cx="451.2" cy="225.1" r="2.20" fill="#520e6d"/>
<circle cx="451.6" cy="228.6" r="2.20" fill="#3b0964"/>
<circle cx="452.1" cy="230.0" r="2.20" fill="#390963"/>
<circle cx="452.7" cy="231.9" r="2.20" fill="#3d0965"/>
<circle cx="453.3" cy="228.9" r="2.20" fill="#470b6a"/>
<circle cx="453.9" cy="227.0" r="2.20" fill="#540f6d"/>
<circle cx="454.4" cy="224.2" r="2.20" fill="#550f6d"/>
<circle cx="455.0" cy="223.4" r="2.20" fill="#4c0c6b"/>
<circle cx="455.6" cy="224.7" r="2.20" fill="#4d0d6c"/>
<circle cx="456.1" cy="225.0" r="2.20" fill="#540f6d"/>
<circle cx="456.7" cy="226.0" r="2.20" fill="#510e6c"/>
<circle cx="457.2" cy="226.7" r="2.20" fill="#550f6d"/>
<circle cx="457.8" cy="227.3" r="2.20" fill="#4f0d6c"/>
<circle cx="458.4" cy="227.0" r="2.20" fill="#540f6d"/>
<circle cx="458.9" cy="228.2" r="2.20" fill="#61136e"/>
<circle cx="459.5" cy="229.6" r="2.20" fill="#67166e"/>
<circle cx="460.1" cy="229.3" r="2.20" fill="#65156e"/>
<circle cx="460.6" cy="227.5" r="2.20" fill="#7c1d6d"/>
<circle cx="461.2" cy="223.8" r="2.20" fill="#771c6d"/>
<circle cx="461.8" cy="225.3" r="2.20" fill="#8a226a"/>
<circle cx="462.3" cy="225.0" r="2.20" fill="#9d2964"/>
<circle cx="462.9" cy="226.0" r="2.20" fill="#9b2964"/>
<circle cx="463.5" cy="228.9" r="2.20" fill="#952667"/>
<circle cx="464.1" cy="226.7" r="2.20" fill="#9b2964"/>
<circle cx="464.7" cy="225.5" r="2.20" fill="#9b2964"/>
<circle cx="465.1" cy="225.1" r="2.20" fill="#d44842"/>
<circle cx="465.6" cy="224.2" r="2.20" fill="#f78212"/>
<circle cx="466.7" cy="215.3" r="2.20" fill="#e8602d"/>
<circle cx="467.2" cy="216.6" r="2.20" fill="#ea632a"/>
<circle cx="467.7" cy="216.1" r="2.20" fill="#e45a31"/>
<circle cx="468.2" cy="217.8" r="2.20" fill="#e8602d"/>
<circle cx="468.7" cy="225.9" r="2.20" fill="#bc3754"/>
<circle cx="469.2" cy="229.4" r="2.20" fill="#e45a31"/>
<circle cx="469.7" cy="228.4" r="2.20" fill="#f78212"/>
<circle cx="470.2" cy="228.3" r="2.20" fill="#d54a41"/>
<circle cx="470.7" cy="227.4" r="2.20" fill="#9b2964"/>
<circle cx="471.2" cy="230.7" r="2.20" fill="#d74b3f"/>
<circle cx="471.8" cy="231.0" r="2.20" fill="#f78212"/>
<circle cx="472.4" cy="232.2" r="2.20" fill="#eb6429"/>
<circle cx="473.0" cy="231.7" r="2.20" fill="#d94d3d"/>
<circle cx="473.6" cy="232.8" r="2.20" fill="#d24644"/>
<circle cx="474.1" cy="235.6" r="2.20" fill="#cb4149"/>
<circle cx="474.5" cy="239.5" r="2.20" fill="#d24644"/>
<circle cx="475.0" cy="237.3" r="2.20" fill="#390963"/>
<circle cx="475.6" cy="233.8" r="2.20" fill="#3e0966"/>
<circle cx="476.3" cy="231.9" r="2.20" fill="#540f6d"/>
<circle cx="476.8" cy="231.7" r="2.20" fill="#390963"/>
<circle cx="477.3" cy="227.4" r="2.20" fill="#1f0c48"/>
<circle cx="478.0" cy="227.1" r="2.20" fill="#310a5c"/>
<circle cx="478.6" cy="229.2" r="2.20" fill="#390963"/>
<circle cx="479.2" cy="233.4" r="2.20" fill="#380962"/>
<circle cx="479.7" cy="230.2" r="2.20" fill="#2b0b57"/>
<circle cx="480.2" cy="226.5" r="2.20" fill="#310a5c"/>
<circle cx="480.8" cy="226.5" r="2.20" fill="#1f0c48"/>
<circle cx="481.3" cy="224.5" r="2.20" fill="#160b39"/>
<circle cx="481.9" cy="225.5" r="2.20" fill="#260c51"/>
<circle cx="482.4" cy="223.9" r="2.20" fill="#1f0c48"/>
<circle cx="482.4" cy="220.3" r="2.20" fill="#390963"/>
<circle cx="482.9" cy="219.2" r="2.20" fill="#540f6d"/>
<circle cx="483.4" cy="215.8" r="2.20" fill="#540f6d"/>
<circle cx="483.9" cy="215.8" r="2.20" fill="#721a6e"/>
<circle cx="484.4" cy="215.0" r="2.20" fill="#88226a"/>
<circle cx="484.9" cy="212.8" r="2.20" fill="#9b2964"/>
<circle cx="484.9" cy="208.2" r="2.20" fill="#540f6d"/>
<circle cx="485.4" cy="206.5" r="2.20" fill="#57106e"/>
<circle cx="485.9" cy="202.6" r="2.20" fill="#540f6d"/>
<circle cx="486.4" cy="199.3" r="2.20" fill="#490b6a"/>
<circle cx="486.9" cy="201.8" r="2.20" fill="#4c0c6b"/>
<circle cx="487.4" cy="199.1" r="2.20" fill="#5d126e"/>
<circle cx="487.9" cy="201.6" r="2.20" fill="#540f6d"/>
<circle cx="488.4" cy="203.5" r="2.20" fill="#6d186e"/>
<circle cx="488.9" cy="205.5" r="2.20" fill="#7a1d6d"/>
<circle cx="489.4" cy="203.7" r="2.20" fill="#7c1d6d"/>
<circle cx="489.9" cy="206.2" r="2.20" fill="#771c6d"/>
<circle cx="490.5" cy="205.0" r="2.20" fill="#69166e"/>
<circle cx="491.0" cy="204.7" r="2.20" fill="#540f6d"/>
<circle cx="491.5" cy="205.3" r="2.20" fill="#751b6e"/>
<circle cx="492.0" cy="205.3" r="2.20" fill="#781c6d"/>
<circle cx="492.5" cy="203.2" r="2.20" fill="#9b2964"/>
<circle cx="492.5" cy="196.6" r="2.20" fill="#540f6d"/>
<circle cx="493.1" cy="191.9" r="2.20" fill="#3e0966"/>
<circle cx="493.6" cy="190.5" r="2.20" fill="#390963"/>
<circle cx="493.8" cy="180.3" r="2.20" fill="#540f6d"/>
<circle cx="494.5" cy="179.9" r="2.20" fill="#4c0c6b"/>
<circle cx="495.1" cy="177.8" r="2.20" fill="#540f6d"/>
<circle cx="495.6" cy="172.3" r="2.20" fill="#1f0c48"/>
<circle cx="495.8" cy="166.7" r="2.20" fill="#1f0c48"/>
<circle cx="496.4" cy="167.6" r="2.20" fill="#160b39"/>
<circle cx="497.0" cy="167.0" r="2.20" fill="#1e0c45"/>
<circle cx="497.5" cy="168.6" r="2.20" fill="#260c51"/>
<circle cx="498.1" cy="168.2" r="2.20" fill="#1f0c48"/>
<circle cx="498.6" cy="166.1" r="2.20" fill="#210c4a"/>
<circle cx="499.0" cy="164.9" r="2.20" fill="#290b55"/>
<circle cx="499.5" cy="162.0" r="2.20" fill="#1f0c48"/>
<circle cx="500.1" cy="161.7" r="2.20" fill="#1f0c48"/>
<circle cx="500.6" cy="159.1" r="2.20" fill="#1f0c48"/>
<circle cx="501.1" cy="162.1" r="2.20" fill="#1f0c48"/>
<circle cx="501.6" cy="163.8" r="2.20" fill="#180c3c"/>
<circle cx="502.2" cy="165.2" r="2.20" fill="#1f0c48"/>
<circle cx="502.7" cy="166.9" r="2.20" fill="#1c0c43"/>
<circle cx="503.2" cy="171.7" r="2.20" fill="#1f0c48"/>
<circle cx="503.7" cy="171.3" r="2.20" fill="#230c4c"/>
<circle cx="504.2" cy="168.2" r="2.20" fill="#1f0c48"/>
<circle cx="504.7" cy="179.3" r="2.20" fill="#1f0c48"/>
<circle cx="505.2" cy="177.4" r="2.20" fill="#2d0b59"/>
<circle cx="505.7" cy="173.8" r="2.20" fill="#1f0c48"/>
<circle cx="506.2" cy="170.4" r="2.20" fill="#190c3e"/>
<circle cx="506.7" cy="166.9" r="2.20" fill="#2b0b57"/>
<circle cx="507.2" cy="163.8" r="2.20" fill="#320a5e"/>
<circle cx="507.7" cy="164.2" r="2.20" fill="#390963"/>
<circle cx="508.2" cy="163.2" r="2.20" fill="#440a68"/>
<circle cx="508.7" cy="163.4" r="2.20" fill="#3d0965"/>
<circle cx="509.2" cy="162.9" r="2.20" fill="#510e6c"/>
<circle cx="509.7" cy="162.1" r="2.20" fill="#540f6d"/>
<circle cx="510.2" cy="162.9" r="2.20" fill="#550f6d"/>
<circle cx="510.8" cy="164.0" r="2.20" fill="#550f6d"/>
<circle cx="511.3" cy="168.0" r="2.20" fill="#520e6d"/>
<circle cx="511.8" cy="171.7" r="2.20" fill="#540f6d"/>
<circle cx="512.3" cy="165.2" r="2.20" fill="#7c1d6d"/>
<circle cx="512.8" cy="165.7" r="2.20" fill="#88226a"/>
<circle cx="513.3" cy="163.9" r="2.20" fill="#88226a"/>
<circle cx="513.8" cy="164.6" r="2.20" fill="#9f2a63"/>
<circle cx="514.3" cy="162.5" r="2.20" fill="#a82e5f"/>
<circle cx="514.8" cy="160.6" r="2.20" fill="#bc3754"/>
<circle cx="515.3" cy="161.5" r="2.20" fill="#c73e4c"/>
<circle cx="515.8" cy="161.7" r="2.20" fill="#c83f4b"/>
<circle cx="516.3" cy="164.2" r="2.20" fill="#d24644"/>
<circle cx="516.8" cy="168.7" r="2.20" fill="#e8602d"/>
<circle cx="517.3" cy="167.6" r="2.20" fill="#eb6628"/>
<circle cx="517.8" cy="172.3" r="2.20" fill="#f78212"/>
<circle cx="518.3" cy="176.3" r="2.20" fill="#f78212"/>
<circle cx="518.8" cy="177.5" r="2.20" fill="#f98b0b"/>
<circle cx="519.4" cy="179.1" r="2.20" fill="#f3761b"/>
<circle cx="519.9" cy="180.9" r="2.20" fill="#f78212"/>
<circle cx="520.4" cy="180.4" r="2.20" fill="#f98e09"/>
<circle cx="520.9" cy="177.4" r="2.20" fill="#fc9f07"/>
<circle cx="521.4" cy="174.8" r="2.20" fill="#fcb014"/>
<circle cx="521.9" cy="175.2" r="2.20" fill="#fac026"/>
<circle cx="522.4" cy="170.2" r="2.20" fill="#f6d746"/>
<circle cx="522.9" cy="168.9" r="2.20" fill="#f6d746"/>
<circle cx="523.4" cy="168.4" r="2.20" fill="#f8cf3a"/>
<circle cx="523.9" cy="170.2" r="2.20" fill="#f6d746"/>
<circle cx="524.4" cy="174.3" r="2.20" fill="#f6d746"/>
<circle cx="524.9" cy="177.4" r="2.20" fill="#f7d13d"/>
<circle cx="525.4" cy="180.8" r="2.20" fill="#f6d746"/>
<circle cx="525.9" cy="184.4" r="2.20" fill="#f8cd37"/>
<circle cx="526.4" cy="182.9" r="2.20" fill="#f6d746"/>
<circle cx="527.0" cy="186.9" r="2.20" fill="#fcb216"/>
<circle cx="527.5" cy="182.4" r="2.20" fill="#fbbe23"/>
<circle cx="528.0" cy="180.2" r="2.20" fill="#fac026"/>
<circle cx="528.5" cy="179.9" r="2.20" fill="#fac026"/>
<circle cx="529.0" cy="176.3" r="2.20" fill="#f6d746"/>
<circle cx="529.5" cy="176.8" r="2.20" fill="#f8cd37"/>
<circle cx="530.0" cy="179.0" r="2.20" fill="#f6d543"/>
<circle cx="530.5" cy="179.6" r="2.20" fill="#f9c932"/>
<circle cx="531.0" cy="180.3" r="2.20" fill="#f6d746"/>
<circle cx="531.5" cy="181.0" r="2.20" fill="#f9c932"/>
<circle cx="532.0" cy="181.2" r="2.20" fill="#f9c72f"/>
<circle cx="532.5" cy="181.8" r="2.20" fill="#f6d746"/>
<circle cx="533.0" cy="180.3" r="2.20" fill="#f6d746"/>
<circle cx="533.5" cy="179.5" r="2.20" fill="#f7d340"/>
<circle cx="534.0" cy="176.2" r="2.20" fill="#f6d746"/>
<circle cx="534.5" cy="174.4" r="2.20" fill="#f6d746"/>
<circle cx="535.1" cy="172.4" r="2.20" fill="#f6d746"/>
<circle cx="535.6" cy="171.2" r="2.20" fill="#f6d746"/>
<circle cx="537.1" cy="162.1" r="2.20" fill="#f6d746"/>
<circle cx="537.6" cy="162.7" r="2.20" fill="#f9cb35"/>
<circle cx="538.1" cy="165.1" r="2.20" fill="#f6d746"/>
<circle cx="538.6" cy="165.4" r="2.20" fill="#f8cf3a"/>
<circle cx="539.1" cy="166.1" r="2.20" fill="#f6d746"/>
<circle cx="539.6" cy="166.9" r="2.20" fill="#f6d746"/>
<circle cx="540.1" cy="167.1" r="2.20" fill="#f6d746"/>
<circle cx="540.6" cy="166.9" r="2.20" fill="#f6d746"/>
<circle cx="541.1" cy="168.6" r="2.20" fill="#f7d340"/>
<circle cx="541.6" cy="166.8" r="2.20" fill="#f8cf3a"/>
<circle cx="542.1" cy="170.0" r="2.20" fill="#f6d746"/>
<circle cx="542.6" cy="168.7" r="2.20" fill="#f6d746"/>
<circle cx="543.1" cy="168.4" r="2.20" fill="#f6d746"/>
<circle cx="543.7" cy="166.1" r="2.20" fill="#f6d746"/>
<circle cx="544.2" cy="167.5" r="2.20" fill="#f7d13d"/>
<circle cx="544.7" cy="165.1" r="2.20" fill="#f6d746"/>
<circle cx="545.2" cy="165.0" r="2.20" fill="#f6d746"/>
<circle cx="545.7" cy="163.8" r="2.20" fill="#f9cb35"/>
<circle cx="546.2" cy="162.1" r="2.20" fill="#f6d746"/>
<circle cx="546.7" cy="165.7" r="2.20" fill="#f8cf3a"/>
<circle cx="547.2" cy="165.6" r="2.20" fill="#fac026"/>
<circle cx="547.7" cy="166.3" r="2.20" fill="#f9c72f"/>
<circle cx="548.2" cy="165.1" r="2.20" fill="#fcb216"/>
<circle cx="548.7" cy="167.8" r="2.20" fill="#fcae12"/>
<circle cx="549.2" cy="169.1" r="2.20" fill="#fcae12"/>
<circle cx="549.7" cy="168.1" r="2.20" fill="#fcb216"/>
<circle cx="550.2" cy="167.1" r="2.20" fill="#fcaa0f"/>
<circle cx="550.7" cy="168.9" r="2.20" fill="#fcb014"/>
<circle cx="551.2" cy="170.7" r="2.20" fill="#fcb216"/>
<circle cx="551.7" cy="168.2" r="2.20" fill="#fca50a"/>
<circle cx="552.3" cy="170.3" r="2.20" fill="#fcac11"/>
<circle cx="552.8" cy="173.2" r="2.20" fill="#fcb216"/>
<circle cx="553.3" cy="176.9" r="2.20" fill="#fcb216"/>
<circle cx="553.8" cy="178.2" r="2.20" fill="#fac228"/>
<circle cx="554.3" cy="176.7" r="2.20" fill="#f7d340"/>
<circle cx="554.8" cy="176.2" r="2.20" fill="#f6d746"/>
<circle cx="555.3" cy="174.2" r="2.20" fill="#fbbe23"/>
<circle cx="555.8" cy="177.8" r="2.20" fill="#fc9f07"/>
<circle cx="556.3" cy="177.4" r="2.20" fill="#f98c0a"/>
<circle cx="556.8" cy="181.3" r="2.20" fill="#f78212"/>
<circle cx="557.3" cy="180.0" r="2.20" fill="#f67e14"/>
<circle cx="557.8" cy="178.9" r="2.20" fill="#f47918"/>
<circle cx="558.3" cy="177.5" r="2.20" fill="#f3761b"/>
<circle cx="558.8" cy="178.3" r="2.20" fill="#f78212"/>
<circle cx="559.3" cy="181.6" r="2.20" fill="#f68013"/>
<circle cx="559.8" cy="182.2" r="2.20" fill="#f8890c"/>
<circle cx="560.3" cy="183.3" r="2.20" fill="#f78212"/>
<circle cx="560.8" cy="182.9" r="2.20" fill="#f57d15"/>
<circle cx="561.4" cy="188.4" r="2.20" fill="#f78212"/>
<circle cx="561.9" cy="188.1" r="2.20" fill="#f98e09"/>
<circle cx="562.4" cy="192.4" r="2.20" fill="#f78212"/>
<circle cx="562.9" cy="191.8" r="2.20" fill="#ef6e21"/>
<circle cx="563.4" cy="188.8" r="2.20" fill="#f37819"/>
<circle cx="563.9" cy="188.0" r="2.20" fill="#eb6628"/>
<circle cx="564.4" cy="189.4" r="2.20" fill="#e8602d"/>
<circle cx="564.9" cy="191.1" r="2.20" fill="#ec6726"/>
<circle cx="565.4" cy="188.7" r="2.20" fill="#eb6628"/>
<circle cx="565.9" cy="185.3" r="2.20" fill="#e8602d"/>
<circle cx="566.4" cy="182.3" r="2.20" fill="#f78212"/>
<circle cx="567.4" cy="174.7" r="2.20" fill="#e8602d"/>
<circle cx="567.9" cy="173.4" r="2.20" fill="#de5238"/>
<circle cx="568.5" cy="173.2" r="2.20" fill="#c43c4e"/>
<circle cx="569.0" cy="173.9" r="2.20" fill="#a82e5f"/>
<circle cx="569.5" cy="170.2" r="2.20" fill="#9b2964"/>
<circle cx="570.0" cy="172.2" r="2.20" fill="#9b2964"/>
<circle cx="570.5" cy="170.7" r="2.20" fill="#932667"/>
<circle cx="571.0" cy="168.2" r="2.20" fill="#8c2369"/>
<circle cx="571.5" cy="168.7" r="2.20" fill="#7c1d6d"/>
<circle cx="572.0" cy="169.1" r="2.20" fill="#8a226a"/>
<circle cx="572.5" cy="168.3" r="2.20" fill="#a52c60"/>
<circle cx="573.0" cy="167.4" r="2.20" fill="#b73557"/>
<circle cx="573.5" cy="167.6" r="2.20" fill="#bc3754"/>
<circle cx="574.0" cy="170.3" r="2.20" fill="#922568"/>
<circle cx="574.5" cy="171.1" r="2.20" fill="#540f6d"/>
<circle cx="575.0" cy="170.8" r="2.20" fill="#470b6a"/>
<circle cx="575.5" cy="170.2" r="2.20" fill="#310a5c"/>
<circle cx="576.0" cy="173.7" r="2.20" fill="#1f0c48"/>
<circle cx="576.6" cy="181.2" r="2.20" fill="#1f0c48"/>
<circle cx="577.6" cy="188.3" r="2.20" fill="#540f6d"/>
<circle cx="578.1" cy="188.9" r="2.20" fill="#3b0964"/>
<circle cx="578.6" cy="193.4" r="2.20" fill="#1f0c48"/>
<circle cx="578.1" cy="196.4" r="2.20" fill="#1f0c48"/>
<circle cx="579.6" cy="181.7" r="2.20" fill="#1f0c48"/>
<circle cx="580.1" cy="181.4" r="2.20" fill="#1e0c45"/>
<circle cx="580.6" cy="182.0" r="2.20" fill="#1f0c48"/>
<circle cx="581.1" cy="180.3" r="2.20" fill="#390963"/>
<circle cx="581.6" cy="183.8" r="2.20" fill="#390963"/>
<circle cx="582.1" cy="184.3" r="2.20" fill="#420a68"/>
<circle cx="582.6" cy="187.3" r="2.20" fill="#440a68"/>
<circle cx="583.1" cy="189.3" r="2.20" fill="#390963"/>
<circle cx="583.6" cy="190.1" r="2.20" fill="#320a5e"/>
<circle cx="584.1" cy="189.2" r="2.20" fill="#3b0964"/>
<circle cx="584.6" cy="189.1" r="2.20" fill="#59106e"/>
<circle cx="585.1" cy="185.8" r="2.20" fill="#540f6d"/>
<circle cx="585.6" cy="182.2" r="2.20" fill="#5a116e"/>
<circle cx="586.2" cy="179.1" r="2.20" fill="#520e6d"/>
<circle cx="586.7" cy="180.8" r="2.20" fill="#510e6c"/>
<circle cx="587.2" cy="182.3" r="2.20" fill="#540f6d"/>
<circle cx="588.2" cy="175.2" r="2.20" fill="#7c1d6d"/>
<circle cx="588.7" cy="175.6" r="2.20" fill="#8f2469"/>
<circle cx="589.2" cy="175.1" r="2.20" fill="#85216b"/>
<circle cx="589.7" cy="177.7" r="2.20" fill="#9b2964"/>
<circle cx="589.9" cy="184.3" r="2.20" fill="#9b2964"/>
<circle cx="590.5" cy="184.8" r="2.20" fill="#a82e5f"/>
<circle cx="591.0" cy="186.9" r="2.20" fill="#bf3952"/>
<circle cx="591.6" cy="187.8" r="2.20" fill="#e15635"/>
<circle cx="592.2" cy="185.8" r="2.20" fill="#e8602d"/>
<circle cx="592.7" cy="188.9" r="2.20" fill="#ef6c23"/>
<circle cx="593.2" cy="189.3" r="2.20" fill="#f78212"/>
<circle cx="593.8" cy="189.0" r="2.20" fill="#f98c0a"/>
<circle cx="594.3" cy="192.4" r="2.20" fill="#f78212"/>
<circle cx="594.8" cy="195.2" r="2.20" fill="#f98c0a"/>
<circle cx="595.3" cy="198.3" r="2.20" fill="#fca80d"/>
<circle cx="595.8" cy="196.4" r="2.20" fill="#fcb216"/>
<circle cx="597.3" cy="189.3" r="2.20" fill="#f78212"/>
<circle cx="597.8" cy="185.3" r="2.20" fill="#f8890c"/>
<circle cx="598.3" cy="184.4" r="2.20" fill="#f98c0a"/>
<circle cx="598.8" cy="183.3" r="2.20" fill="#f78212"/>
<circle cx="599.3" cy="183.8" r="2.20" fill="#f57d15"/>
<circle cx="599.8" cy="185.6" r="2.20" fill="#fa9008"/>
<circle cx="600.3" cy="187.3" r="2.20" fill="#f78212"/>
<circle cx="601.8" cy="178.2" r="2.20" fill="#f78212"/>
<circle cx="602.3" cy="176.3" r="2.20" fill="#f67e14"/>
<circle cx="602.9" cy="173.4" r="2.20" fill="#e8602d"/>
<circle cx="603.4" cy="176.2" r="2.20" fill="#e8602d"/>
<circle cx="603.9" cy="176.3" r="2.20" fill="#ee6a24"/>
<circle cx="604.4" cy="178.2" r="2.20" fill="#e15635"/>
<circle cx="604.9" cy="174.2" r="2.20" fill="#e35933"/>
<circle cx="605.4" cy="174.7" r="2.20" fill="#e8602d"/>
<circle cx="605.9" cy="176.0" r="2.20" fill="#f06f20"/>
<circle cx="606.4" cy="174.1" r="2.20" fill="#ef6e21"/>
<circle cx="606.9" cy="172.1" r="2.20" fill="#f78212"/>
<circle cx="608.4" cy="181.2" r="2.20" fill="#e8602d"/>
<circle cx="608.9" cy="180.0" r="2.20" fill="#de5238"/>
<circle cx="609.4" cy="179.3" r="2.20" fill="#db503b"/>
<circle cx="609.9" cy="178.8" r="2.20" fill="#c03a51"/>
<circle cx="610.4" cy="180.2" r="2.20" fill="#bc3754"/>
<circle cx="610.9" cy="179.5" r="2.20" fill="#b93556"/>
<circle cx="611.5" cy="177.5" r="2.20" fill="#ad305d"/>
<circle cx="612.0" cy="177.7" r="2.20" fill="#9b2964"/>
<circle cx="612.5" cy="180.2" r="2.20" fill="#a02a63"/>
<circle cx="613.0" cy="180.1" r="2.20" fill="#902568"/>
<circle cx="613.5" cy="182.8" r="2.20" fill="#9b2964"/>
<circle cx="614.0" cy="178.2" r="2.20" fill="#8f2469"/>
<circle cx="614.5" cy="175.8" r="2.20" fill="#932667"/>
<circle cx="614.9" cy="172.9" r="2.20" fill="#84206b"/>
<circle cx="615.4" cy="170.3" r="2.20" fill="#7c1d6d"/>
<circle cx="615.9" cy="170.1" r="2.20" fill="#67166e"/>
<circle cx="616.4" cy="168.1" r="2.20" fill="#5f136e"/>
<circle cx="617.0" cy="167.9" r="2.20" fill="#59106e"/>
<circle cx="617.5" cy="166.8" r="2.20" fill="#65156e"/>
<circle cx="618.0" cy="167.0" r="2.20" fill="#540f6d"/>
<circle cx="618.5" cy="164.0" r="2.20" fill="#62146e"/>
<circle cx="619.0" cy="166.2" r="2.20" fill="#721a6e"/>
<circle cx="619.5" cy="167.3" r="2.20" fill="#7f1e6c"/>
<circle cx="620.0" cy="166.5" r="2.20" fill="#741a6e"/>
<circle cx="620.5" cy="163.1" r="2.20" fill="#87216b"/>
<circle cx="621.0" cy="166.5" r="2.20" fill="#9a2865"/>
<circle cx="621.5" cy="168.2" r="2.20" fill="#9b2964"/>
<circle cx="622.0" cy="166.6" r="2.20" fill="#8d2369"/>
<circle cx="622.5" cy="160.5" r="2.20" fill="#741a6e"/>
<circle cx="623.0" cy="160.3" r="2.20" fill="#4c0c6b"/>
<circle cx="623.5" cy="158.8" r="2.20" fill="#390963"/>
<circle cx="624.0" cy="162.5" r="2.20" fill="#2f0a5b"/>
<circle cx="624.5" cy="163.2" r="2.20" fill="#2b0b57"/>
<circle cx="625.0" cy="163.0" r="2.20" fill="#2d0b59"/>
<circle cx="625.5" cy="164.9" r="2.20" fill="#1f0c48"/>
<circle cx="626.0" cy="164.9" r="2.20" fill="#1b0c41"/>
<circle cx="626.4" cy="165.3" r="2.20" fill="#180c3c"/>
<circle cx="626.9" cy="167.6" r="2.20" fill="#1f0c48"/>
<circle cx="627.2" cy="153.4" r="2.20" fill="#390963"/>
<circle cx="627.8" cy="150.9" r="2.20" fill="#450a69"/>
<circle cx="628.3" cy="152.0" r="2.20" fill="#450a69"/>
<circle cx="628.9" cy="151.4" r="2.20" fill="#540f6d"/>
<circle cx="629.6" cy="146.0" r="2.20" fill="#540f6d"/>
<circle cx="630.2" cy="135.2" r="2.20" fill="#1f0c48"/>
<circle cx="630.7" cy="131.4" r="2.20" fill="#2d0b59"/>
<circle cx="631.1" cy="132.8" r="2.20" fill="#160b39"/>
<circle cx="631.6" cy="132.5" r="2.20" fill="#1f0c48"/>
<circle cx="632.1" cy="131.6" r="2.20" fill="#260c51"/>
<circle cx="632.5" cy="128.4" r="2.20" fill="#280b53"/>
<circle cx="633.0" cy="129.8" r="2.20" fill="#1f0c48"/>
<circle cx="633.5" cy="129.8" r="2.20" fill="#1e0c45"/>
<circle cx="634.0" cy="127.1" r="2.20" fill="#2d0b59"/>
<circle cx="634.5" cy="127.1" r="2.20" fill="#1f0c48"/>
<circle cx="635.0" cy="127.8" r="2.20" fill="#1f0c48"/>
<circle cx="635.6" cy="119.7" r="2.20" fill="#1f0c48"/>
<circle cx="636.1" cy="121.0" r="2.20" fill="#180c3c"/>
<circle cx="636.5" cy="123.8" r="2.20" fill="#160b39"/>
<circle cx="637.0" cy="126.5" r="2.20" fill="#1f0c48"/>
<circle cx="637.5" cy="125.1" r="2.20" fill="#230c4c"/>
<circle cx="638.0" cy="127.9" r="2.20" fill="#1f0c48"/>
<circle cx="638.6" cy="126.8" r="2.20" fill="#2d0b59"/>
<circle cx="639.1" cy="125.0" r="2.20" fill="#390963"/>
<circle cx="639.7" cy="127.4" r="2.20" fill="#470b6a"/>
<circle cx="640.3" cy="122.8" r="2.20" fill="#540f6d"/>
<circle cx="640.8" cy="121.6" r="2.20" fill="#5a116e"/>
<circle cx="641.4" cy="120.7" r="2.20" fill="#4c0c6b"/>
<circle cx="641.9" cy="121.2" r="2.20" fill="#61136e"/>
<circle cx="642.5" cy="120.1" r="2.20" fill="#5f136e"/>
<circle cx="643.0" cy="119.7" r="2.20" fill="#540f6d"/>
<circle cx="643.5" cy="119.5" r="2.20" fill="#61136e"/>
<circle cx="644.1" cy="118.0" r="2.20" fill="#510e6c"/>
<circle cx="644.6" cy="115.7" r="2.20" fill="#540f6d"/>
<circle cx="645.1" cy="116.6" r="2.20" fill="#4a0c6b"/>
<circle cx="645.7" cy="118.5" r="2.20" fill="#4d0d6c"/>
<circle cx="646.2" cy="121.2" r="2.20" fill="#540f6d"/>
<circle cx="646.7" cy="118.5" r="2.20" fill="#61136e"/>
<circle cx="647.2" cy="117.6" r="2.20" fill="#6d186e"/>
<circle cx="647.6" cy="116.1" r="2.20" fill="#6d186e"/>
<circle cx="648.1" cy="111.9" r="2.20" fill="#7d1e6d"/>
<circle cx="648.6" cy="110.2" r="2.20" fill="#7c1d6d"/>
<circle cx="649.0" cy="112.8" r="2.20" fill="#84206b"/>
<circle cx="649.4" cy="116.5" r="2.20" fill="#7c1d6d"/>
<circle cx="649.9" cy="114.5" r="2.20" fill="#771c6d"/>
<circle cx="650.3" cy="114.1" r="2.20" fill="#8f2469"/>
<circle cx="650.8" cy="117.0" r="2.20" fill="#952667"/>
<circle cx="651.3" cy="121.2" r="2.20" fill="#9b2964"/>
<circle cx="651.8" cy="123.2" r="2.20" fill="#932667"/>
<circle cx="652.4" cy="121.9" r="2.20" fill="#a02a63"/>
<circle cx="652.9" cy="118.9" r="2.20" fill="#9b2964"/>
<circle cx="653.5" cy="122.6" r="2.20" fill="#ad305d"/>
<circle cx="654.0" cy="123.6" r="2.20" fill="#bc3754"/>
<circle cx="654.5" cy="124.2" r="2.20" fill="#b3325a"/>
<circle cx="655.0" cy="126.5" r="2.20" fill="#c63d4d"/>
<circle cx="655.5" cy="124.8" r="2.20" fill="#ba3655"/>
<circle cx="656.0" cy="126.7" r="2.20" fill="#bc3754"/>
<circle cx="656.6" cy="122.3" r="2.20" fill="#b1325a"/>
<circle cx="657.2" cy="124.4" r="2.20" fill="#9b2964"/>
<circle cx="657.7" cy="123.2" r="2.20" fill="#c43c4e"/>
<circle cx="658.2" cy="120.7" r="2.20" fill="#d54a41"/>
<circle cx="658.7" cy="122.0" r="2.20" fill="#e9612b"/>
<circle cx="659.2" cy="120.4" r="2.20" fill="#f78212"/>
<circle cx="659.6" cy="114.5" r="2.20" fill="#f78212"/>
<circle cx="660.1" cy="116.5" r="2.20" fill="#f3761b"/>
<circle cx="660.7" cy="117.6" r="2.20" fill="#f67e14"/>
<circle cx="661.2" cy="122.0" r="2.20" fill="#f78212"/>
<circle cx="661.6" cy="123.7" r="2.20" fill="#f37819"/>
<circle cx="662.0" cy="127.5" r="2.20" fill="#f78212"/>
<circle cx="662.5" cy="122.5" r="2.20" fill="#f8890c"/>
<circle cx="663.0" cy="124.1" r="2.20" fill="#f57d15"/>
<circle cx="663.5" cy="123.6" r="2.20" fill="#f78212"/>
<circle cx="663.9" cy="119.0" r="2.20" fill="#f98c0a"/>
<circle cx="664.3" cy="117.3" r="2.20" fill="#fcb216"/>
<circle cx="664.8" cy="115.9" r="2.20" fill="#fcb014"/>
<circle cx="665.4" cy="114.6" r="2.20" fill="#f7d13d"/>
<circle cx="665.9" cy="112.2" r="2.20" fill="#f6d746"/>
<circle cx="666.4" cy="110.5" r="2.20" fill="#f9c72f"/>
<circle cx="666.8" cy="108.0" r="2.20" fill="#f6d746"/>
<circle cx="667.3" cy="109.3" r="2.20" fill="#f6d746"/>
<circle cx="667.8" cy="109.8" r="2.20" fill="#f6d746"/>
<circle cx="668.3" cy="112.3" r="2.20" fill="#f6d746"/>
<circle cx="668.8" cy="110.5" r="2.20" fill="#f9cb35"/>
<circle cx="669.3" cy="111.7" r="2.20" fill="#fac026"/>
<circle cx="669.8" cy="113.0" r="2.20" fill="#fcb216"/>
<circle cx="670.3" cy="112.5" r="2.20" fill="#fca80d"/>
<circle cx="670.8" cy="110.8" r="2.20" fill="#fcb014"/>
<circle cx="671.2" cy="111.0" r="2.20" fill="#fcb014"/>
<circle cx="671.7" cy="111.8" r="2.20" fill="#fcae12"/>
<circle cx="672.2" cy="111.8" r="2.20" fill="#fcb216"/>
<circle cx="672.7" cy="113.3" r="2.20" fill="#fcb014"/>
<circle cx="673.2" cy="116.9" r="2.20" fill="#fcb418"/>
<circle cx="673.7" cy="115.0" r="2.20" fill="#fcb216"/>
<circle cx="674.1" cy="118.7" r="2.20" fill="#fca309"/>
<circle cx="674.5" cy="121.2" r="2.20" fill="#f78212"/>
<circle cx="675.0" cy="121.5" r="2.20" fill="#f8850f"/>
<circle cx="675.5" cy="118.4" r="2.20" fill="#f37819"/>
<circle cx="675.9" cy="117.2" r="2.20" fill="#f8890c"/>
<circle cx="676.4" cy="115.8" r="2.20" fill="#f78212"/>
<circle cx="676.9" cy="118.7" r="2.20" fill="#fb9706"/>
<circle cx="677.3" cy="119.5" r="2.20" fill="#fa9407"/>
<circle cx="677.8" cy="121.7" r="2.20" fill="#fcb216"/>
<circle cx="678.3" cy="119.6" r="2.20" fill="#f9c72f"/>
<circle cx="678.9" cy="121.7" r="2.20" fill="#fac62d"/>
<circle cx="679.4" cy="121.0" r="2.20" fill="#f9cb35"/>
<circle cx="680.0" cy="120.5" r="2.20" fill="#f9c72f"/>
<circle cx="680.5" cy="120.8" r="2.20" fill="#f6d746"/>
<circle cx="681.0" cy="118.5" r="2.20" fill="#f6d746"/>
<circle cx="681.6" cy="118.9" r="2.20" fill="#f6d746"/>
<circle cx="682.1" cy="119.0" r="2.20" fill="#f6d746"/>
<circle cx="682.7" cy="121.5" r="2.20" fill="#f7d13d"/>
<circle cx="683.2" cy="119.9" r="2.20" fill="#f6d746"/>
<circle cx="683.7" cy="118.7" r="2.20" fill="#f8cf3a"/>
<circle cx="684.3" cy="117.9" r="2.20" fill="#f6d746"/>
<circle cx="684.8" cy="120.6" r="2.20" fill="#f8cd37"/>
<circle cx="685.4" cy="120.2" r="2.20" fill="#f8cf3a"/>
<circle cx="685.9" cy="121.7" r="2.20" fill="#f6d746"/>
<circle cx="685.4" cy="128.9" r="2.20" fill="#f6d746"/>
<circle cx="685.8" cy="131.8" r="2.20" fill="#fbba1f"/>
<circle cx="686.3" cy="133.3" r="2.20" fill="#fcb216"/>
<circle cx="686.8" cy="134.9" r="2.20" fill="#fcac11"/>
<circle cx="687.3" cy="133.2" r="2.20" fill="#fb9906"/>
<circle cx="687.8" cy="129.4" r="2.20" fill="#f98e09"/>
<circle cx="688.3" cy="126.4" r="2.20" fill="#f98e09"/>
<circle cx="688.8" cy="127.2" r="2.20" fill="#f98c0a"/>
<circle cx="689.3" cy="124.8" r="2.20" fill="#f78212"/>
<circle cx="689.8" cy="125.4" r="2.20" fill="#f8850f"/>
<circle cx="690.3" cy="128.7" r="2.20" fill="#f68013"/>
<circle cx="690.8" cy="131.1" r="2.20" fill="#f78212"/>
<circle cx="688.1" cy="136.0" r="2.20" fill="#f78212"/>
<circle cx="687.2" cy="139.6" r="2.20" fill="#f78212"/>
<circle cx="687.7" cy="140.6" r="2.20" fill="#f98c0a"/>
<circle cx="688.2" cy="141.3" r="2.20" fill="#f68013"/>
<circle cx="688.7" cy="137.3" r="2.20" fill="#f68013"/>
<circle cx="689.3" cy="134.9" r="2.20" fill="#f98e09"/>
<circle cx="689.8" cy="134.7" r="2.20" fill="#f3761b"/>
<circle cx="690.3" cy="135.1" r="2.20" fill="#f8870e"/>
<circle cx="690.8" cy="136.5" r="2.20" fill="#f78212"/>
<circle cx="691.4" cy="138.7" r="2.20" fill="#f78410"/>
<circle cx="692.0" cy="135.5" r="2.20" fill="#f3761b"/>
<circle cx="692.6" cy="136.9" r="2.20" fill="#f78212"/>
<circle cx="693.0" cy="139.8" r="2.20" fill="#f68013"/>
<circle cx="693.5" cy="143.7" r="2.20" fill="#f78212"/>
<circle cx="694.1" cy="144.3" r="2.20" fill="#f47918"/>
<circle cx="694.7" cy="140.4" r="2.20" fill="#f68013"/>
<circle cx="695.3" cy="141.0" r="2.20" fill="#f78212"/>
<circle cx="695.9" cy="143.3" r="2.20" fill="#f8850f"/>
<circle cx="696.5" cy="143.2" r="2.20" fill="#f8850f"/>
<circle cx="697.1" cy="140.1" r="2.20" fill="#f78212"/>
<circle cx="697.8" cy="138.5" r="2.20" fill="#f3761b"/>
<circle cx="698.4" cy="135.6" r="2.20" fill="#f78212"/>
<circle cx="699.0" cy="135.7" r="2.20" fill="#f98c0a"/>
<circle cx="699.6" cy="135.7" r="2.20" fill="#f8850f"/>
<circle cx="700.2" cy="134.7" r="2.20" fill="#f78212"/>
<circle cx="700.8" cy="134.5" r="2.20" fill="#f2741c"/>
<circle cx="701.4" cy="137.8" r="2.20" fill="#f78212"/>
<circle cx="702.0" cy="136.0" r="2.20" fill="#f78212"/>
<circle cx="702.6" cy="136.7" r="2.20" fill="#f78410"/>
<circle cx="703.2" cy="136.6" r="2.20" fill="#fca60c"/>
<circle cx="703.8" cy="140.1" r="2.20" fill="#fcb216"/>
<circle cx="704.4" cy="137.2" r="2.20" fill="#fca50a"/>
<circle cx="705.0" cy="137.2" r="2.20" fill="#fca80d"/>
<circle cx="705.6" cy="138.7" r="2.20" fill="#fcb216"/>
<circle cx="706.2" cy="141.0" r="2.20" fill="#fca60c"/>
<circle cx="706.8" cy="140.7" r="2.20" fill="#fcac11"/>
<circle cx="707.4" cy="141.4" r="2.20" fill="#fcb216"/>
<circle cx="708.0" cy="145.2" r="2.20" fill="#fcac11"/>
<circle cx="708.6" cy="140.9" r="2.20" fill="#fb9706"/>
<circle cx="709.2" cy="143.7" r="2.20" fill="#f78212"/>
<circle cx="709.7" cy="141.7" r="2.20" fill="#f98b0b"/>
<circle cx="710.1" cy="138.6" r="2.20" fill="#f98b0b"/>
<circle cx="710.6" cy="137.8" r="2.20" fill="#f78212"/>
<circle cx="711.2" cy="139.1" r="2.20" fill="#f67e14"/>
<circle cx="711.8" cy="140.3" r="2.20" fill="#f98e09"/>
<circle cx="712.4" cy="139.6" r="2.20" fill="#f78212"/>
<circle cx="713.0" cy="142.8" r="2.20" fill="#f8870e"/>
<circle cx="713.6" cy="137.9" r="2.20" fill="#f57d15"/>
<circle cx="714.2" cy="137.8" r="2.20" fill="#f78212"/>
<circle cx="714.8" cy="137.4" r="2.20" fill="#f57d15"/>
<circle cx="715.4" cy="135.3" r="2.20" fill="#f98b0b"/>
<circle cx="716.0" cy="134.7" r="2.20" fill="#f78212"/>
<circle cx="716.4" cy="125.8" r="2.20" fill="#d24644"/>
<circle cx="717.0" cy="122.8" r="2.20" fill="#c43c4e"/>
<circle cx="717.5" cy="122.3" r="2.20" fill="#ab2f5e"/>
<circle cx="718.1" cy="121.5" r="2.20" fill="#a82e5f"/>
<circle cx="718.7" cy="123.9" r="2.20" fill="#9b2964"/>
<circle cx="719.2" cy="121.7" r="2.20" fill="#9d2964"/>
<circle cx="719.7" cy="121.0" r="2.20" fill="#8d2369"/>
<circle cx="720.1" cy="121.6" r="2.20" fill="#7f1e6c"/>
<circle cx="720.6" cy="123.1" r="2.20" fill="#7f1e6c"/>
<circle cx="721.1" cy="122.5" r="2.20" fill="#7c1d6d"/>
<circle cx="721.7" cy="121.9" r="2.20" fill="#751b6e"/>
<circle cx="722.2" cy="121.0" r="2.20" fill="#62146e"/>
<circle cx="722.8" cy="119.2" r="2.20" fill="#62146e"/>
<circle cx="723.4" cy="121.5" r="2.20" fill="#540f6d"/>
<circle cx="723.9" cy="118.9" r="2.20" fill="#5f136e"/>
<circle cx="724.4" cy="116.8" r="2.20" fill="#540f6d"/>
<circle cx="724.8" cy="114.3" r="2.20" fill="#4a0c6b"/>
<circle cx="725.3" cy="112.6" r="2.20" fill="#390963"/>
<circle cx="725.8" cy="110.7" r="2.20" fill="#360961"/>
<circle cx="726.3" cy="108.3" r="2.20" fill="#2b0b57"/>
<circle cx="726.7" cy="108.5" r="2.20" fill="#3b0964"/>
<circle cx="727.2" cy="112.0" r="2.20" fill="#360961"/>
<circle cx="727.7" cy="113.0" r="2.20" fill="#390963"/>
<circle cx="728.2" cy="111.7" r="2.20" fill="#380962"/>
<circle cx="728.7" cy="110.9" r="2.20" fill="#210c4a"/>
<circle cx="729.1" cy="113.2" r="2.20" fill="#1e0c45"/>
<circle cx="729.6" cy="110.2" r="2.20" fill="#1f0c48"/>
<circle cx="730.1" cy="106.4" r="2.20" fill="#160b39"/>
<circle cx="730.5" cy="106.1" r="2.20" fill="#260c51"/>
<circle cx="731.0" cy="105.5" r="2.20" fill="#1f0c48"/>
<circle cx="731.5" cy="104.5" r="2.20" fill="#280b53"/>
<circle cx="731.9" cy="101.5" r="2.20" fill="#240c4f"/>
<circle cx="732.4" cy="103.1" r="2.20" fill="#1f0c48"/>
<circle cx="732.9" cy="105.9" r="2.20" fill="#360961"/>
<circle cx="733.3" cy="105.5" r="2.20" fill="#3e0966"/>
<circle cx="733.8" cy="107.1" r="2.20" fill="#4f0d6c"/>
<circle cx="734.3" cy="106.9" r="2.20" fill="#540f6d"/>
<circle cx="734.8" cy="108.6" r="2.20" fill="#65156e"/>
<circle cx="735.2" cy="108.3" r="2.20" fill="#7c1d6d"/>
<circle cx="735.7" cy="110.4" r="2.20" fill="#902568"/>
<circle cx="736.2" cy="112.3" r="2.20" fill="#9a2865"/>
<circle cx="736.7" cy="111.1" r="2.20" fill="#9b2964"/>
<circle cx="737.3" cy="113.2" r="2.20" fill="#a22b62"/>
<circle cx="737.9" cy="114.9" r="2.20" fill="#a22b62"/>
<circle cx="738.4" cy="114.1" r="2.20" fill="#a82e5f"/>
<circle cx="739.0" cy="114.9" r="2.20" fill="#9b2964"/>
<circle cx="739.5" cy="115.0" r="2.20" fill="#ae305c"/>
<circle cx="739.9" cy="112.9" r="2.20" fill="#ab2f5e"/>
<circle cx="740.4" cy="110.2" r="2.20" fill="#bc3754"/>
<circle cx="740.9" cy="109.6" r="2.20" fill="#b43359"/>
<circle cx="741.3" cy="108.6" r="2.20" fill="#a32c61"/>
<circle cx="741.8" cy="107.3" r="2.20" fill="#9b2964"/>
<circle cx="742.3" cy="104.5" r="2.20" fill="#9b2964"/>
<circle cx="742.8" cy="106.1" r="2.20" fill="#b3325a"/>
<circle cx="743.3" cy="108.3" r="2.20" fill="#d24644"/>
<circle cx="743.8" cy="103.6" r="2.20" fill="#d24644"/>
<circle cx="744.2" cy="105.9" r="2.20" fill="#d74b3f"/>
<circle cx="744.7" cy="106.1" r="2.20" fill="#d34743"/>
<circle cx="745.2" cy="109.7" r="2.20" fill="#d24644"/>
<circle cx="745.7" cy="111.1" r="2.20" fill="#d84c3e"/>
<circle cx="746.1" cy="112.6" r="2.20" fill="#e45a31"/>
<circle cx="746.6" cy="111.6" r="2.20" fill="#e8602d"/>
<circle cx="747.1" cy="114.8" r="2.20" fill="#f57d15"/>
<circle cx="747.5" cy="113.8" r="2.20" fill="#f8870e"/>
<circle cx="748.0" cy="115.5" r="2.20" fill="#fb9b06"/>
<circle cx="748.5" cy="115.4" r="2.20" fill="#fcb216"/>
<circle cx="749.0" cy="115.9" r="2.20" fill="#fb9d07"/>
<circle cx="749.4" cy="112.1" r="2.20" fill="#f78212"/>
<circle cx="749.9" cy="114.9" r="2.20" fill="#f98e09"/>
<circle cx="750.3" cy="112.9" r="2.20" fill="#f98b0b"/>
<circle cx="750.8" cy="110.1" r="2.20" fill="#f37819"/>
<circle cx="751.3" cy="108.8" r="2.20" fill="#f78212"/>
<circle cx="751.8" cy="109.1" r="2.20" fill="#f8850f"/>
<circle cx="752.2" cy="106.3" r="2.20" fill="#f78212"/>
<circle cx="752.7" cy="107.4" r="2.20" fill="#f8870e"/>
<circle cx="753.2" cy="107.8" r="2.20" fill="#f78212"/>
<circle cx="753.7" cy="107.4" r="2.20" fill="#f8890c"/>
<circle cx="754.1" cy="106.9" r="2.20" fill="#f98c0a"/>
<circle cx="754.6" cy="105.5" r="2.20" fill="#f78212"/>
<circle cx="755.1" cy="105.7" r="2.20" fill="#f47918"/>
<circle cx="755.5" cy="104.6" r="2.20" fill="#f37819"/>
<circle cx="756.0" cy="101.5" r="2.20" fill="#f37819"/>
<circle cx="756.5" cy="104.5" r="2.20" fill="#f78212"/>
<circle cx="757.0" cy="102.3" r="2.20" fill="#f57d15"/>
<circle cx="757.4" cy="100.1" r="2.20" fill="#f8850f"/>
<circle cx="757.9" cy="99.8" r="2.20" fill="#f78212"/>
<circle cx="758.4" cy="97.4" r="2.20" fill="#f78212"/>
<circle cx="759.0" cy="93.6" r="2.20" fill="#e55c30"/>
<circle cx="759.5" cy="93.8" r="2.20" fill="#d24644"/>
<circle cx="760.0" cy="93.8" r="2.20" fill="#a32c61"/>
<circle cx="760.5" cy="97.7" r="2.20" fill="#69166e"/>
<circle cx="761.0" cy="96.0" r="2.20" fill="#1f0c48"/>
<circle cx="761.5" cy="97.5" r="2.20" fill="#2d0b59"/>
<circle cx="762.0" cy="99.6" r="2.20" fill="#290b55"/>
<circle cx="762.6" cy="97.1" r="2.20" fill="#280b53"/>
<circle cx="763.1" cy="96.3" r="2.20" fill="#240c4f"/>
<circle cx="763.6" cy="95.0" r="2.20" fill="#1f0c48"/>
<circle cx="764.1" cy="94.0" r="2.20" fill="#230c4c"/>
<circle cx="764.6" cy="93.8" r="2.20" fill="#230c4c"/>
<circle cx="765.0" cy="92.2" r="2.20" fill="#360961"/>
<circle cx="765.5" cy="94.2" r="2.20" fill="#360961"/>
<circle cx="766.0" cy="95.3" r="2.20" fill="#390963"/>
<circle cx="766.5" cy="97.9" r="2.20" fill="#380962"/>
<circle cx="767.0" cy="96.3" r="2.20" fill="#4c0c6b"/>
<circle cx="767.5" cy="93.7" r="2.20" fill="#59106e"/>
<circle cx="768.0" cy="96.6" r="2.20" fill="#540f6d"/>
<circle cx="768.5" cy="97.6" r="2.20" fill="#5f136e"/>
<circle cx="769.0" cy="100.3" r="2.20" fill="#5a116e"/>
<circle cx="769.5" cy="99.1" r="2.20" fill="#540f6d"/>
<circle cx="770.1" cy="100.9" r="2.20" fill="#5c126e"/>
<circle cx="770.8" cy="102.3" r="2.20" fill="#540f6d"/>
<circle cx="771.3" cy="103.0" r="2.20" fill="#57106e"/>
<circle cx="771.9" cy="99.2" r="2.20" fill="#4d0d6c"/>
<circle cx="772.4" cy="99.7" r="2.20" fill="#540f6d"/>
<circle cx="773.0" cy="98.9" r="2.20" fill="#721a6e"/>
<circle cx="773.6" cy="97.2" r="2.20" fill="#7c1d6d"/>
<circle cx="774.2" cy="93.9" r="2.20" fill="#801f6c"/>
<circle cx="774.9" cy="94.1" r="2.20" fill="#9b2964"/>
<circle cx="775.5" cy="92.6" r="2.20" fill="#a32c61"/>
<circle cx="776.1" cy="90.6" r="2.20" fill="#bc3754"/>
<circle cx="776.6" cy="92.7" r="2.20" fill="#e75e2e"/>
<circle cx="777.1" cy="96.3" r="2.20" fill="#f78212"/>
<circle cx="777.7" cy="96.1" r="2.20" fill="#fb9906"/>
<circle cx="778.3" cy="96.9" r="2.20" fill="#fcb216"/>
<circle cx="778.8" cy="96.3" r="2.20" fill="#fb9906"/>
<circle cx="779.4" cy="98.7" r="2.20" fill="#fc9f07"/>
<circle cx="779.9" cy="99.7" r="2.20" fill="#f78212"/>
<circle cx="780.4" cy="99.4" r="2.20" fill="#fca108"/>
<circle cx="780.9" cy="96.6" r="2.20" fill="#fcb216"/>
<circle cx="781.2" cy="100.0" r="2.20" fill="#f6d746"/>
<circle cx="781.8" cy="101.2" r="2.20" fill="#fcb216"/>
<circle cx="782.4" cy="102.3" r="2.20" fill="#f78212"/>
<circle cx="782.9" cy="101.0" r="2.20" fill="#f78410"/>
<circle cx="783.5" cy="103.5" r="2.20" fill="#f98b0b"/>
<circle cx="784.0" cy="104.8" r="2.20" fill="#f78212"/>
<circle cx="784.5" cy="105.2" r="2.20" fill="#f8890c"/>
<circle cx="785.1" cy="107.0" r="2.20" fill="#f8890c"/>
<circle cx="785.6" cy="107.0" r="2.20" fill="#f78212"/>
<circle cx="786.1" cy="104.9" r="2.20" fill="#ee6a24"/>
<circle cx="786.7" cy="103.5" r="2.20" fill="#f06f20"/>
<circle cx="787.2" cy="104.1" r="2.20" fill="#e8602d"/>
<circle cx="787.7" cy="101.0" r="2.20" fill="#f06f20"/>
<circle cx="788.2" cy="103.1" r="2.20" fill="#ef6e21"/>
<circle cx="788.7" cy="102.9" r="2.20" fill="#f78212"/>
<circle cx="789.2" cy="104.4" r="2.20" fill="#f67e14"/>
<circle cx="789.7" cy="100.6" r="2.20" fill="#f78212"/>
<circle cx="790.1" cy="99.1" r="2.20" fill="#f47918"/>
<circle cx="790.6" cy="100.0" r="2.20" fill="#f78212"/>
<circle cx="791.1" cy="101.6" r="2.20" fill="#f98b0b"/>
<circle cx="791.5" cy="101.1" r="2.20" fill="#f98e09"/>
<circle cx="792.0" cy="99.2" r="2.20" fill="#f8870e"/>
<circle cx="792.5" cy="97.8" r="2.20" fill="#f78212"/>
<circle cx="793.0" cy="98.4" r="2.20" fill="#f8870e"/>
<circle cx="793.5" cy="98.1" r="2.20" fill="#f78212"/>
<circle cx="794.0" cy="99.8" r="2.20" fill="#f8850f"/>
<circle cx="794.5" cy="97.6" r="2.20" fill="#f98b0b"/>
<circle cx="795.0" cy="96.6" r="2.20" fill="#f78212"/>
<circle cx="795.5" cy="96.6" r="2.20" fill="#f98e09"/>
<circle cx="796.0" cy="96.5" r="2.20" fill="#f57b17"/>
<circle cx="796.4" cy="99.5" r="2.20" fill="#f2741c"/>
<circle cx="796.9" cy="99.1" r="2.20" fill="#f78212"/>
<circle cx="797.5" cy="100.7" r="2.20" fill="#f78212"/>
<circle cx="798.2" cy="102.9" r="2.20" fill="#f78212"/>
<circle cx="798.8" cy="103.3" r="2.20" fill="#f68013"/>
<circle cx="799.4" cy="105.4" r="2.20" fill="#f78212"/>
<circle cx="799.9" cy="108.9" r="2.20" fill="#f8890c"/>
<circle cx="800.4" cy="108.2" r="2.20" fill="#f8890c"/>
<circle cx="801.0" cy="105.5" r="2.20" fill="#f98c0a"/>
<circle cx="801.5" cy="102.3" r="2.20" fill="#fa9008"/>
<circle cx="802.0" cy="104.0" r="2.20" fill="#f78212"/>
<rect x="0" y="417" width="800" height="1.4" fill="#8c8c8c"/>
<rect x="10" y="417" width="1" height="7" fill="#8a8a8a"/><rect x="75" y="417" width="1" height="7" fill="#8a8a8a"/><rect x="139" y="417" width="1" height="7" fill="#8a8a8a"/><rect x="204" y="417" width="1" height="7" fill="#8a8a8a"/><rect x="268" y="417" width="1" height="7" fill="#8a8a8a"/><rect x="332" y="417" width="1" height="7" fill="#8a8a8a"/><rect x="398" y="417" width="1" height="7" fill="#8a8a8a"/><rect x="462" y="417" width="1" height="7" fill="#8a8a8a"/><rect x="527" y="417" width="1" height="7" fill="#8a8a8a"/><rect x="592" y="417" width="1" height="7" fill="#8a8a8a"/><rect x="657" y="417" width="1" height="7" fill="#8a8a8a"/><rect x="721" y="417" width="1" height="7" fill="#8a8a8a"/><rect x="786" y="417" width="1" height="7" fill="#8a8a8a"/>
<g font-family="Liberation Sans, sans-serif" font-size="9" fill="#4a4a4a" stroke="#4a4a4a" stroke-width="0.25"><text x="10.5" y="436" text-anchor="middle">Sep &#39;21</text><text x="75.5" y="436" text-anchor="middle">Jan &#39;22</text><text x="139.5" y="436" text-anchor="middle">May &#39;22</text><text x="204.5" y="436" text-anchor="middle">Sep &#39;22</text><text x="268.5" y="436" text-anchor="middle">Jan &#39;23</text><text x="332.5" y="436" text-anchor="middle">May &#39;23</text><text x="398.5" y="436" text-anchor="middle">Sep &#39;23</text><text x="462.5" y="436" text-anchor="middle">Jan &#39;24</text><text x="527.5" y="436" text-anchor="middle">May &#39;24</text><text x="592.5" y="436" text-anchor="middle">Sep &#39;24</text><text x="657.5" y="436" text-anchor="middle">Jan &#39;25</text><text x="721.5" y="436" text-anchor="middle">May &#39;25</text><text x="786.5" y="436" text-anchor="middle">Sep &#39;25</text></g>
<rect x="347" y="407" width="105.6" height="10.3" fill="url(#cb)"/>
<text x="400" y="401.6" font-family="Liberation Sans, sans-serif" font-size="8.7" fill="#383838" text-anchor="middle">Trend Score</text>
<text x="338.7" y="415.2" font-family="Liberation Sans, sans-serif" font-size="9" fill="#383838" text-anchor="middle">0</text>
<text x="459.8" y="415.2" font-family="Liberation Sans, sans-serif" font-size="9" fill="#383838" text-anchor="middle">1</text>
</svg>
<div class="tt">
<div class="d1">Saturday, Mar 21 2026 UTC</div>
<span class="dot" style="top:15.7px;background:#666"></span>
<div class="r" style="top:14.5px">Price [USD]: <b>$68,906.04</b></div>
<span class="dot" style="top:25px;background:#f7c631"></span>
<div class="r" style="top:24.4px">BTC: Accumulation Trend Score</div>
</div>
</body></html>
